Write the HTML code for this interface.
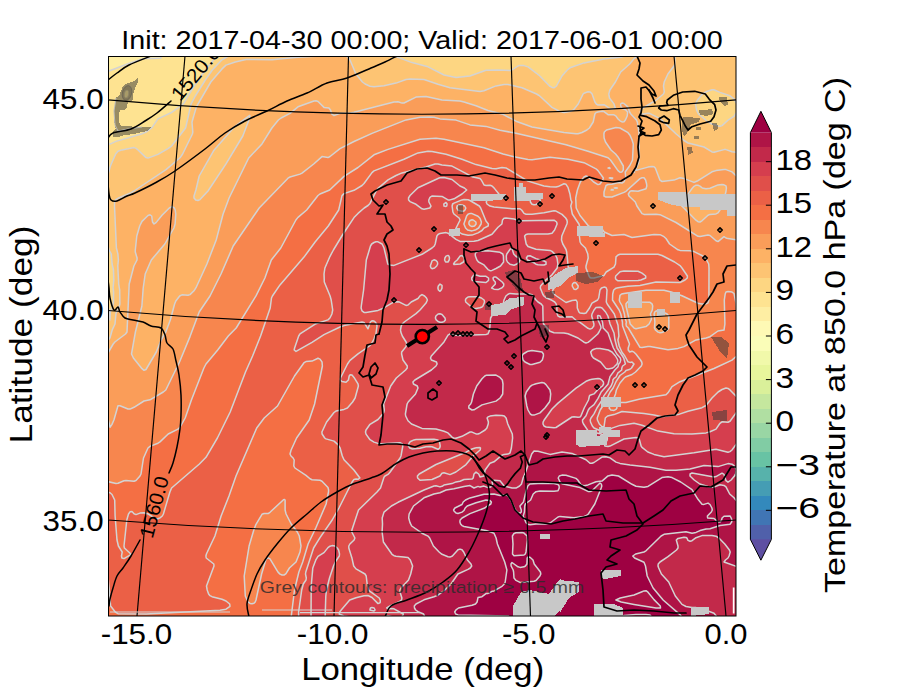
<!DOCTYPE html>
<html><head><meta charset="utf-8"><title>Temperature at 850 hPa</title>
<style>html,body{margin:0;padding:0;background:#fff}body{width:900px;height:700px;overflow:hidden}svg{display:block}text{font-family:"Liberation Sans",sans-serif;fill:#000}</style></head><body>
<svg width="900" height="700" viewBox="0 0 900 700">
<rect width="900" height="700" fill="#fff"/>
<defs><clipPath id="ax"><rect x="108" y="56" width="628" height="560"/></clipPath></defs>
<g clip-path="url(#ax)">
<rect x="108" y="56" width="628" height="560" fill="#fdb265"/>
<g shape-rendering="geometricPrecision">
<path fill="#feeea3" d="M104 50L166.5 50L160.3 54L161 58L154 58.5L146 58.2L142 59L128 63.7L102 73.7L102 50Z"/>
<path fill="#fee391" d="M164 51.8L166.5 50L218.1 50L217.4 54L216 57.2L206.7 68L195.3 84L183.2 104L172 112.2L158 118.9L151.5 128L146 132.1L142 133.8L116 141.4L110 144.1L106 144.1L102 145.7L102 73.7L128 63.7L142 59L146 58.2L154 58.5L161 58L160.3 54L163.4 52Z"/>
<path fill="#fdd682" d="M218 51L218.1 50L228.6 50L227.7 52L227.7 54L228.3 56L224 58.3L219.8 62L212.3 70L205.3 80L195.3 96L191.1 104L185.6 128L174 143.2L170 147.4L158 154.4L148 158.1L146 157.6L138 150L136 148.4L134 147.6L122 149.9L118 151.2L115.7 154L110.4 166L107.5 176L102 182L102 145.7L106 144.1L110 144.1L116 141.4L141.4 134L146 132.1L152 127.6L158 118.9L172 112.2L182 105L184 103.1L192.8 88L199.5 78L206.7 68L216 57.2L217.9 52ZM382 50L628 50L626 54.5L624 56.2L622 56.9L604 59L584 62.9L570 67.8L567.3 70L562 76L556.5 86L554 87.8L552 87.4L549.5 86L539.9 76L530 68.3L528 66.9L524 65.6L520 65.4L518 66L512 70L510 70.6L498 70L486 70.2L470 76L456 77.6L444 75L428 66.8L412 62.6L398 57.4L388 54.6L380.2 50ZM712 89.7L714 89.8L720 92.4L730 95.8L734 98.8L736 102.7L740 102.5L742 103.4L742 114.6L740 115.3L738 114.9L736 113.2L734 116.3L728 120.2L722 125.6L720 126.2L712 124L708 122L698.4 114L696.5 110L695.5 104L697.4 100L702 94.4L704 92.8L710.8 90ZM102.1 244L108 246.1L109.1 250L111.3 254L112.1 264L113.5 270L113.8 280L113.1 288L113.6 292L113.5 302L112.8 306L110.3 312L110 319.9L109.4 312L108.5 308L107.7 306L106 304.8L104.4 306L103.7 308L103.3 326L102 328.9L102 244Z"/>
<path fill="#fdc473" d="M228 51.5L228.6 50L323 50L322 54.1L320 55.4L316 56.3L298 57.2L272 59.8L244 59.7L226 65.1L222 68.9L210.8 82L198 104L196 108.1L192 122L192.8 132L192.4 134L182.6 154L180 157.8L166 169.6L134 191L130 193.3L118 198.3L115.4 200L114.6 202L114.5 206L116.4 248L117.9 254L118.4 260L117.8 266L118.7 284L119.7 290L119.9 304L118.8 308L116 313.3L115 324L112.2 330L110 337.7L108 340.5L106 340.8L105.5 344L104 345.3L102 346L102 328.9L103.3 326L103.7 308L104.4 306L106 304.8L107.7 306L109.4 312L110 319.9L110.3 312L112.8 306L113.5 302L113.6 292L113.1 288L113.8 280L113.5 270L112.1 264L111.3 254L109.1 250L108 246.1L102 244L102 182L107.5 176L110.4 166L115.7 154L118 151.2L122 149.9L134 147.6L136 148.4L138 150L146 157.6L148 158.1L158 154.4L168 148.7L171.6 146L185.6 128L191.1 104L195.3 96L205.3 80L212.3 70L222 59.8L228.3 56L227.7 54L227.7 52ZM348 50L380.2 50L388 54.6L398 57.4L412 62.6L428 66.8L444 75L456 77.6L470 76L486 70.2L498 70L510 70.6L512 70L518 66L520 65.4L524 65.6L528 66.9L530 68.3L539.9 76L549.5 86L552 87.4L554 87.8L556.5 86L562 76L567.3 70L570 67.8L584 62.9L604 59L622 56.9L624 56.2L626 54.5L628 50L639.7 50L638 56L634 58.6L629.7 64L620.7 72L615.4 82L609.9 90L608.8 94L609.5 98L614 103.9L615.3 108L612 109L610 108.7L604 104.7L598 105.1L596.3 104L594.9 102L592 93.8L590 91.9L588 91.8L584 93.2L583.1 94L578.2 104L573.4 110L570 111.5L564 112.6L560 111.5L552 107.4L540 96.2L536.6 94L522 87.8L508 84.5L504 84.6L496 85.9L484 90.7L480 91.6L450 87.7L438 84.3L424 79.5L410 79L406 79.5L396 83.1L384 85.7L374 86.7L370 86.3L365.1 84L362.4 82L355.9 74L350 60L348 57.5L345.8 56L346.7 54L346.3 50ZM676 50L742 50L742 103.4L740 102.5L736 102.7L734 98.8L730 95.8L720 92.4L714 89.8L712 89.7L706 91.8L702.4 94L697.4 100L695.5 104L696.5 110L698.4 114L708 122L712 124L718 125.9L720 126.2L722 125.6L728 120.2L734 116.3L736 113.2L738 114.9L740 115.3L742 114.6L742 155.7L736 152.2L732 151.7L726 149.6L724 149.6L714 152.3L712 151.9L704 147L688 143L684 140.5L676.2 134L660 118.6L650 113.6L648 113.2L642 114.2L640.2 112L641 110L643 108L656 100.2L663.4 94L664.3 92L663.5 86L664.2 82L667.9 74L674 66L674.8 64L675 50ZM250 115.1L249.7 118L241.7 138L226 163.9L210.3 188L200 199.6L198 200.5L196 200.2L194 198L194 196L195.9 190L199.2 176L211.7 154L215.7 148L233.2 128L248.7 116Z"/>
<path fill="#fdb265" d="M324 50L346.3 50L346.7 54L345.8 56L348 57.5L350 60L355.9 74L362.4 82L365.1 84L370 86.3L374 86.7L384 85.7L396 83.1L406 79.5L410 79L424 79.5L438 84.3L450 87.7L480 91.6L484 90.7L496 85.9L504 84.6L508 84.5L522 87.8L536.6 94L540 96.2L552 107.4L560 111.5L564 112.6L570 111.5L573.4 110L578.2 104L583.1 94L584 93.2L588 91.8L590 91.9L592 93.8L594.9 102L596.3 104L598 105.1L604 104.7L610 108.7L612 109L615.3 108L614 103.9L609.5 98L608.8 94L609.9 90L615.4 82L620.7 72L629.7 64L634 58.6L638 56L639.7 50L675 50L674.8 64L674 66L667.9 74L664.2 82L663.5 86L664.3 92L663.4 94L656 100.2L643 108L641 110L640.2 112L642 114.2L648 113.2L650 113.6L660 118.6L676.2 134L684 140.5L688 143L704 147L712 151.9L714 152.3L724 149.6L726 149.6L732 151.7L736 152.2L742 155.7L742 175.7L738 175.1L736 175.7L732 171.9L726 169.6L724 169.4L716 170.6L712 171.8L698 180.7L694 182.4L684 178.6L680 177.7L674 180.1L662 181.5L660 180.2L655.3 168L654 166.7L652 166.5L648 167.1L636 170.4L635.6 170L638.8 162L639.4 158L638.9 132L637.3 122L636.4 120L630.8 114L629.6 112L628 107.1L624 103.5L622 103L620.7 104L620.7 106L621.8 108L625.9 110L627.6 112L627.2 116L625.4 120L624 121.8L622 121.9L620 120.8L618 119L616 116.1L614 114.8L608 114.7L604 111.6L602 111.2L597.8 112L596 112.6L594.9 114L593.2 122L589.4 128L586.9 130L582 132.5L578 133.7L576 133.7L564 132.5L532 127L516 121.2L502 113.9L488 110.5L476 105.7L464 102L460 101.1L442 100L426 96.4L416 97.1L404 103L402 103.1L398 101.8L394 101.9L354 112.3L350 112.9L340 113.2L334 115.6L331.8 114L330.5 110L328.9 108L324 107.4L318 101.5L316 100.8L312 101.6L298 106.8L290 113.4L281.1 118L278.4 120L271.9 128L262 143.9L248.7 158L229.1 198L223.1 214L216.2 240L206.9 264L196 287.7L194 290.8L190 294.6L188 295.3L182 294.8L179.7 296L176 300.8L174.6 304L170.3 320L166 331.6L161.1 340L156.3 352L147.1 368L146 369.5L144 370.3L142 368.7L133.4 358L131.5 354L135.4 332L141.9 306L143.2 288L145.2 274L151.3 260L164.8 244L173.9 228L175.1 224L175.7 212L174.3 208L172 206.6L169.3 208L162 215.2L156 222.6L154 224L152.5 222L151.7 216L150 214.8L147.4 216L142 221.4L140.4 224L137.2 234L135.4 248L135.3 252L137.1 258L137 260L133.9 266L129.2 284L127 332L125.5 334L114.9 342L113.2 344L108.5 352L107.3 360L106 363L104 362.3L102 362.8L102 346L104 345.3L105.5 344L106 340.8L108 340.5L110 337.7L112.2 330L115 324L116 313.3L118.8 308L119.9 304L119.7 290L118.7 284L117.8 266L118.4 260L117.9 254L116.4 248L114.5 206L114.6 202L115.4 200L118 198.3L130 193.3L134 191L166 169.6L180 157.8L182.6 154L192.4 134L192.8 132L192 122L196 108.1L198 104L210.8 82L222 68.9L226 65.1L235.3 62L246 59.5L272 59.8L298 57.2L316 56.3L320 55.4L322 54.1L323 50ZM248.7 116L233.2 128L215.7 148L211.7 154L199.2 176L195.9 190L194 196L194 198L196 200.2L198 200.5L200 199.6L210.3 188L226 163.9L241.7 138L249.7 118L250 115.1ZM634 171.5L634.5 172L634 172.6L633.7 172ZM696 185.2L699.8 186L702 187.8L704 188.7L706 188.8L710 188.2L716 185.6L720 184.6L724 184.8L726 185.9L726.3 190L724.3 198L720 210L718 212.9L716 213.9L710 214.4L707.1 216L702 220.8L700 222L698 221.7L681.8 206L680.6 204L681.3 202L688 194.1L692 188.5L694.7 186ZM616 187.8L617.4 188L616 188.2L614.2 188ZM612 189.3L613.3 190L611.1 190ZM738 195.4L742 196.4L742 213L738 212.2L736.9 210L736.2 198L737 196Z"/>
<path fill="#fa9d59" d="M414 97.7L418 96.7L426 96.4L442 100L462 101.4L476 105.7L488 110.5L502 113.9L516 121.2L530 126.5L564 132.5L576 133.7L578 133.7L582 132.5L586.9 130L589.4 128L593.2 122L594.9 114L596 112.6L597.8 112L602 111.2L604 111.6L608 114.7L614 114.8L616 116.1L618 119L620 120.8L622 121.9L624 121.8L626.4 118L627.7 114L627.6 112L626 110.1L624 108.8L622 108.2L620.7 106L620.7 104L622 103L624 103.5L626 104.9L628.6 108L629.6 112L632.3 116L636.4 120L637.7 124L638.9 132L639.4 158L638.8 162L635.6 170L636 170.4L648 167.1L652 166.5L654 166.7L655.3 168L660 180.2L662 181.5L674 180.1L680 177.7L684 178.6L694 182.4L698 180.7L712 171.8L716 170.6L724 169.4L726 169.6L732 171.9L736 175.7L738 175.1L742 175.7L742 196.4L738 195.4L737 196L736.2 198L736.9 210L738 212.2L742 213L742 240.7L728 238.6L725.9 238L724 236.7L718 241.6L716 240.8L710 235.5L708 235.1L700 236.6L698 236.3L676 222.5L660 214.7L656 214.2L644 214.4L642 213.6L636.9 206L635.3 202L629 196L628.3 194L630 191.3L632 190.7L638 191.2L646 188.7L646.8 186L646.6 184L645.6 180L644 177.8L642 177.7L640 178.6L626 191.3L624 192.4L612 197L606 197.1L604 196L604 192L606 185.5L608 184.5L612 184.3L618 182.6L622 183L624 181.8L625.8 178L625.2 172L630 165.3L632.5 160L633.3 144L632 139.7L630 135.2L628 132.7L620 128L616 127.6L606.5 130L604.3 132L603.9 134L604.1 138L605.5 142L611 150L615.6 154L618 156.9L623.3 166L623.3 170L622 171.9L620 172.3L618 170.6L610.5 160L608 157.8L588 151.3L566 144.8L516 133.3L500 130.2L486 126.4L470 124.9L456 120.1L440 118.9L434 117.2L430 117L420 117.2L406 119.9L372 133.4L354 141.5L340 148.6L330 156.5L328 157.6L322 156.6L313.7 164L302 173.1L300 174.1L290 177L288 178.2L261 206L257.7 210L233.2 246L221 274L210 296L199.2 312L190 336.6L179.5 362L166 389.7L163.3 392L150 399.8L144 401L134 407.3L130 409.1L128 409L120 405.7L118 405.8L114 419.7L112 424.4L110 427.2L108 418.5L107.1 404L106 401.8L102 401L102 362.8L104 362.3L106 363L107.3 360L108.5 352L113.2 344L114.9 342L125.5 334L127 332L129.2 284L133.9 266L137 260L137.1 258L135.3 252L135.3 250L136.8 236L139.7 226L142 221.4L148 215.5L150 214.8L151.7 216L152.5 222L154 224L156 222.6L162 215.2L169.3 208L172 206.6L174.3 208L175.2 210L175.8 214L175.1 224L173.9 228L164.8 244L151.3 260L145.2 274L143.2 288L141.9 306L135.4 332L131.5 354L133.4 358L142 368.7L144 370.3L146 369.5L156.3 352L161.1 340L166 331.6L170.3 320L174.6 304L176 300.8L179.7 296L182 294.8L188 295.3L190 294.6L194 290.8L196 287.7L206.9 264L216.2 240L223.1 214L229.1 198L247.5 160L250.1 156L263.5 142L270.5 130L278 120.4L281.1 118L290 113.4L298 106.8L314 101L316 100.8L318 101.5L324 107.4L328.9 108L330.5 110L331.8 114L334 115.6L340 113.2L350 112.9L354 112.3L394 101.9L398 101.8L402 103.1L404 103L413.5 98ZM633.7 172L634 172.6L634.5 172L634 171.5ZM694.7 186L692 188.5L688 194.1L681.3 202L680.6 204L681.8 206L698 221.7L700 222L702 220.8L707.1 216L710 214.4L716 213.9L718 212.9L720 210L724.3 198L726.3 190L726 185.9L724 184.8L720 184.6L716 185.6L710 188.2L706 188.8L704 188.7L702 187.8L699.8 186L696 185.2ZM614.2 188L616 188.2L617.4 188L616 187.8ZM611.1 190L613.3 190L612 189.3ZM610 167.6L610 168.4L608.1 168ZM628 301.4L648 302L650 302.3L652 303.8L652.8 308L650.4 314L651.5 318L651.1 320L649.1 324L647.1 326L644 327.3L636 328.8L634 328.1L632 326.3L630.2 324L626.3 308L625.9 304L627 302ZM656 311.1L658 310.7L662.8 312L667.1 314L668.8 316L669 326L668.8 328L667.3 330L663.3 332L660 332.7L658 332.1L655.4 330L654.4 328L654.9 322L654 316L654.7 312Z"/>
<path fill="#f7864e" d="M416 117.9L422 117.1L432 117L440 118.9L456 120.1L470 124.9L486 126.4L500 130.2L516 133.3L568 145.3L608 157.8L610.5 160L618 170.6L620 172.3L622 171.9L623.3 170L623.3 166L618 156.9L615.6 154L611 150L605.5 142L604.1 138L603.9 134L604.3 132L606.5 130L616 127.6L620 128L626 131.3L628 132.7L630 135.2L633.3 144L632.6 154L632.8 158L632 161.6L628 168.4L625.2 172L625.8 178L624 181.8L622 183L618 182.6L612 184.3L608 184.5L606 185.5L604 192L604 196L606 197.1L612 197L624 192.4L626 191.3L640 178.6L642 177.7L644 177.8L645.6 180L646.6 184L646.8 186L646 188.7L638 191.2L632 190.7L630 191.3L628.3 194L629 196L635.3 202L636.9 206L642 213.6L644 214.4L656 214.2L660 214.7L676 222.5L698 236.3L700 236.6L708 235.1L710 235.5L716 240.8L718 241.6L724 236.7L725.9 238L728 238.6L742 240.7L742 328L737.5 322L736 303.2L734 293.5L732 292.1L728 291.6L726 291.9L725.2 294L724.3 300L724.9 324L724 330.1L718 331L710 336.7L706.2 338L696 339.9L684 346.6L678 348.4L668 349.7L650 346.4L648 346.4L642 347.6L640 347.3L628.3 328L626.3 326L626 324L626.4 322L625 318L624.4 314L622.2 306L619.9 302L619.3 300L620 295.3L621.6 294L624 293.4L646 290.2L664 290.3L671.2 292L682 295.7L698 303.3L702 304L706 303.8L708 302.8L708.9 300L709 268L708.7 264L705.6 258L702.9 256L694 251.6L690 250.8L680 250.4L678 249.8L669.6 244L666 238.5L664 236.7L660 234.7L654 234.5L632 237.5L624 234.5L612 235.5L604.2 232L601.2 228L600 227.4L596 229.3L594 229L588.5 226L580 215.5L576.2 208L575.7 198L577.4 190L580.3 182L584 176.9L586 176L588 176.7L593.7 182L598 184.6L600 184L602.7 180L603.4 178L598 170.6L596 168.8L584 162.7L568 159.2L550 157.2L532 159.7L528 159.4L514 156.7L503.1 154L484 147.8L444 139.3L436 138.2L420 139.3L388 149.4L376 153.9L372 156L358 167.5L342 178L329.7 190L320 194L318 195.5L306.7 210L297.4 218L290 230.3L280.8 248L271.3 260L264.9 278L256 295.9L238.8 324L234.7 330L228 336.4L204.8 366L191.4 400L185.2 418L180.8 426L178 429.1L168.2 434L159.8 442L150 446.4L148 448L143.5 458L141 474L138 478.5L136 480.5L134 481.3L126 480.5L116 483.4L102 480.3L102 401L106 401.8L107.1 404L108 418.5L110 427.2L112 424.4L114 419.7L118 405.8L120 405.7L128 409L130 409.1L134 407.3L144 401L150 399.8L163.3 392L165.8 390L179.5 362L190 336.6L199.2 312L210 296L221 274L233.2 246L259.2 208L288 178.2L290 177L300 174.1L302 173.1L313.7 164L322 156.6L328 157.6L330 156.5L340 148.6L354 141.5L372 133.4L404 120.5L415.7 118ZM608.1 168L610 168.4L610 167.6ZM609.3 178L612 178.8L612.7 178L610 177.8ZM627 302L625.9 304L626.3 308L630.2 324L632 326.3L634 328.1L636 328.8L644 327.3L647.1 326L649.1 324L651.1 320L651.5 318L650.4 314L652.8 308L652 303.8L650 302.3L648 302L628 301.4ZM654.7 312L654 316L654.9 322L654.4 328L655.4 330L658 332.1L660 332.7L663.3 332L667.3 330L668.8 328L669 326L668.8 316L667.1 314L662.8 312L658 310.7L656 311.1ZM472 219.7L474 220.3L475.9 222L476.1 224L474 226.3L472 226.6L470.5 226L468.9 224L469 222L470.9 220ZM284 499.2L285.1 500L285.4 512L291.2 524L298.6 534L300.3 540L301 546L300 552L296 561.9L289.4 568L285.7 574L284 575.1L282 575L279.8 574L277.9 572L270 558.9L268 557.8L266 559.2L261.6 574L256 600L255.2 602L254 603.2L252 603.7L250 603.4L248.2 602L245.3 596L244.1 578L246.5 560L249.1 546L253.8 530L256 524.3L262 514.3L264 513.5L268 513.6L270 512.3L283.1 500Z"/>
<path fill="#f46f44" d="M418 139.9L422 139L434 138.2L444 139.3L484 147.8L503.1 154L514 156.7L528 159.4L532 159.7L550 157.2L568 159.2L584 162.7L596 168.8L598 170.6L603.4 178L602.7 180L600 184L598 184.6L593.7 182L588 176.7L586 176L584 176.9L580.3 182L577.4 190L575.7 198L576.2 208L580 215.5L588.5 226L594 229L596 229.3L600 227.4L601.2 228L604.2 232L612 235.5L624 234.5L632 237.5L654 234.5L660 234.7L664 236.7L666 238.5L669.6 244L678 249.8L680 250.4L690 250.8L694 251.6L702.9 256L705.6 258L708.7 264L709 268L708.9 300L708 302.8L706 303.8L702 304L698 303.3L682 295.7L671.2 292L662 290.1L646 290.2L632 292L622 293.8L619.6 296L619.3 300L619.9 302L622.2 306L624.4 314L625 318L626.4 322L626 324L626.3 326L628.3 328L640 347.3L642 347.6L648 346.4L650 346.4L668 349.7L682 347.3L685.1 346L694 340.7L708 337.5L711.3 336L718 331L724 330.1L724.9 326L724.3 300L725.2 294L726 291.9L728 291.6L732 292.1L734 293.5L736 303.2L737.5 322L742 328L742 356.3L738 357L736 356.6L732 360.1L714 368.5L680 381.7L672 386.6L668 392.8L666 394.8L640 398.9L626 402.5L618 402.4L616.7 404L616.9 408L615.3 410L614 410.4L610.8 410L609.1 408L612.4 402L615.5 394L616.4 390L620 383L624.2 378L626 376.7L632 374.5L635.5 372L641.3 366L642.1 364L641.7 362L640.5 360L635.9 354L634 352.2L632 351.2L629.7 352L628.2 350L628.2 348L629.5 344L629.1 342L622.6 326L621.4 316L620 311.9L612.5 300L612.7 294L614 289.6L616 288.2L618 287.8L628 286.3L640 285.6L656 282.1L670 282L678 282.8L681.3 282L685 280L687.3 278L687.4 276L680 265.6L670 259.5L662 255.5L658 254.2L620 254.3L618 255L616 256.9L615.5 264L614 267.1L606.2 272L604 275.4L594 277.9L591 278L590 277.5L589 276L586 268L586 266L588.2 258L587.8 254L585.4 248L581.2 244L580.1 242L578.9 232L579.5 226L578.9 224L572.3 214L570.8 206L571.9 202L570.9 200L570 194.3L568 187.4L566 184.3L564 183.7L558 186.6L556 186.9L550 186.8L544 186L528 181.1L506 167.9L502 167.6L496 168.7L492 168.4L476 164.6L462 159.3L446 154.3L432 151.5L428 151.3L418 152.9L404 159.3L374 170.9L372 172.6L364 183.5L362 185.5L354 190.3L344 193.6L342 195.6L338.7 210L328.3 226L315.1 242L304 257.1L280 284.9L272.4 296L271.5 298L270.2 308L260.6 336L252.6 356L245.5 372L230.2 412L217.4 438L206.8 456L201.7 462L171.6 488L169.9 492L163.4 514L162.3 516L160 517.9L158 518.8L156 518.8L148.3 514L144 512.8L140 513.1L136 514.6L134 513.7L132 511.6L129.7 512L128 515.2L126.8 520L124 546L124.4 548L130.9 554L128.8 556L125.4 558L124 558.6L121.9 558L121.5 556L122.2 552L118.4 546L117 540L115.1 516L114.7 500L112 494.5L110 492.8L108 492.2L102 492L102 480.3L116 483.4L118 483.2L124 480.7L126 480.5L134 481.3L136 480.5L140 476L141 474L143.5 458L148 448L150 446.4L158 443.2L160 441.9L168.2 434L178 429.1L180 427.2L185.2 418L191.4 400L203.9 368L206 364L217.7 350L228.3 336L236.2 328L256 295.9L264.9 278L271.3 260L280.8 248L295.9 220L298 217.4L306.7 210L318 195.5L320 194L329.7 190L344 176.4L358 167.5L374 154.8L388 149.4L417.8 140ZM610 177.8L612.7 178L612 178.8L609.3 178ZM458 205.5L460 204.8L462 204.9L464.7 206L465.8 208L465 210L464 210.9L462 211.2L458 210.2L456.7 208L457.1 206ZM470 213.4L472 213.6L478 216.2L480.9 220L481.4 222L480.1 226L478 228.5L475.3 230L472 230.9L468 230.2L466 228.6L464.5 226L463.9 224L464.4 222L465.6 220L466.6 216L468.5 214ZM470.9 220L469 222L468.9 224L470.5 226L472 226.6L474 226.3L476.1 224L475.9 222L474 220.3L472 219.7ZM574 282.5L576 282.8L577.2 284L578.2 286L577.9 288L576 289.4L574 289.2L572.2 286L572.5 284ZM316 358.9L318 358.3L320 359.1L322.1 362L322.5 364L314.6 404L309.2 420L296.6 438L291.1 450L290 454L291 456L293.1 458L294.2 460L293.8 466L294.9 468L306 475.4L310 478.8L312 479.7L320 480.3L322 481.2L328 487.5L328.6 490L328.5 492L326.1 504L316 527.5L308.1 544L302.7 562L298.9 572L294.5 590L291.3 616L292 622L102 622L102 579.6L108 579.4L108.4 580L110.6 606L115.3 612L118 613.7L146 613.9L220 610.3L226 609.2L230 606.3L229.7 604L226 601L222 599.3L212 596.7L210 595.7L208.6 594L207.2 590L206.5 586L214 566L213.8 564L206.2 558L205.9 556L206.4 554L214.9 536L221.1 516L229 496L236 476L256.7 428L264.2 418L277.5 406L294.5 376L302.9 364L306 361.6L310 361.5L314.2 360ZM283.1 500L270 512.3L268 513.6L264 513.5L262 514.3L256 524.3L253.8 530L249.1 546L246.5 560L244.1 578L245.3 596L248.2 602L250 603.4L252 603.7L254 603.2L255.2 602L256 600L261.6 574L266 559.2L268 557.8L270 558.9L277.9 572L279.8 574L282 575L284 575.1L285.7 574L289.4 568L296 561.9L300 552L301 546L300.3 540L298.6 534L291.2 524L285.4 512L285.1 500L284 499.2Z"/>
<path fill="#eb6046" d="M424 151.8L430 151.3L444 153.8L460 158.7L476 164.6L492 168.4L496 168.7L502 167.6L506 167.9L528 181.1L544 186L550 186.8L556 186.9L558 186.6L564 183.7L566 184.3L568 187.4L570 194.3L570.9 200L571.9 202L570.8 206L572.3 214L578.9 224L579.5 226L578.9 232L580.1 242L581.2 244L585.4 248L587.8 254L588.2 258L586 266L586 268L589 276L590 277.5L591 278L594 277.9L604 275.4L606.2 272L614 267.1L615.5 264L616 256.9L618 255L620 254.3L658 254.2L662 255.5L674.6 262L680 265.6L682 268L687.4 276L687.3 278L685 280L680 282.5L656 282.1L640 285.6L628 286.3L618 287.8L616 288.2L613.7 290L612.7 294L612.5 300L619.1 310L620.8 314L622.4 322L622.6 326L629.5 344L628.2 348L628.2 350L629.7 352L632 351.2L634 352.2L635.9 354L640.5 360L641.7 362L642.1 364L641.3 366L635.5 372L632 374.5L626 376.7L624.2 378L620 383L616.4 390L615.5 394L612.4 402L609.1 408L610.8 410L614 410.4L616 409.4L616.9 408L616.7 404L618 402.4L626 402.5L640 398.9L666 394.8L668 392.8L672 386.6L680 381.7L714 368.5L732 360.1L736 356.6L738 357L742 356.3L742 401.2L737.7 398L730 389.9L728 388.4L726 388L722 389.5L718.1 392L712 398L706 405.5L702 407.7L688 411.3L678 414.6L662 416.7L654 414.9L644 413.6L622 411.5L614 414.6L607.6 416L605.3 418L604 426.8L602 426.8L599.3 424L597.4 420L597.2 418L600.2 410L605.4 402L610 392.2L613.1 388L616 381.7L620 375.5L624.8 372L626 370.5L630 369.3L631.5 368L634 364L632 362.1L630 362.4L628 361.8L624.8 356L621.8 352L619.2 346L617.9 340L618.9 336L618 325.3L614.3 314L607.2 304L606.3 302L607 290L606 287.4L604 287.1L601.5 288L600 290L598.7 298L597.6 300L592 303.2L589.5 308L586 313L584 313.5L580 313L578.9 312L577.3 308L577.2 302L576.1 300L572 300.5L566 302.5L556.5 296L553.9 294L552.4 292L552.8 290L558 282.4L566 277.2L568.4 274L568.5 270L566.7 252L566 249.5L562.8 244L561.5 240L561.8 236L566.9 224L567.3 222L566.9 220L565.7 218L562 214.4L556 211.1L554 210.7L544 212.8L532 214.2L526 214.2L524 213.4L521.6 210L520 208.8L512 208.7L494 207L490 206.1L487 204L486.2 202L487.3 200L494 199.1L496.6 198L499.1 196L498.9 194L494 187.9L492 186L490 185.2L486 185.4L484 184.9L481.3 180L480 178.6L472 176.7L452 166.1L442 165L438 164L435 164L426 167L402 172.9L396 175.5L388 179.9L378 188.4L376 191.3L370 203.4L368 205.5L364.2 208L358 213.4L354 217.6L343.1 234L333.4 250L330 256.3L324.9 268L324 274L324.3 282L330.1 296L331.2 300L332.7 310L331.9 314L329.9 318L328 319.9L316 323.7L300 333.9L298.7 336L294.6 348L294.2 350L296 351.4L312 342.3L324 334.6L340 327L344 325.6L362 322.1L364 322.4L368 328.8L370.4 322L372 320.8L374 321.1L375.2 322L376.6 324L377 326L375.9 334L374 339L371.3 344L369.4 346L358 353.8L350 360.4L347.5 364L340.5 378L340.4 380L342 381.5L346 382.2L348.4 380L349.2 376L350 374.8L352 375.1L354 377.4L358 383.9L358.4 386L355.1 398L352.6 402L347.4 408L344 409.4L336 411.1L334 412.5L326.6 422L321.9 432L322.1 434L324.7 438L326 438.9L334 441.1L338 444.6L340.1 448L342.3 456L344 459.7L353.9 470L359.9 478L358 479.3L356 479L354 479.4L352.1 482L339 508L332.2 520L320 537.6L313.6 548L305.8 572L305.5 574L306.3 578L306 580L303.3 584L301.7 590L298.6 612L298.7 622L292 622L291.3 616L294.9 588L298.9 572L302.7 562L308.1 544L316 527.5L326.1 504L327.2 500L328.6 490L328.3 488L327 486L322 481.2L320 480.3L312 479.7L310 478.8L306 475.4L294.9 468L293.8 466L294.2 460L293.1 458L291 456L290 454L291.1 450L296.6 438L309.2 420L314.6 404L322.4 366L322.1 362L320 359.1L318 358.3L312 361.1L306 361.6L304 362.7L294.5 376L277.5 406L264.2 418L256.7 428L236 476L229 496L221.1 516L214.9 536L207.1 552L205.9 556L206.2 558L213.8 564L214 566L206.9 584L206.7 588L207.8 592L208.6 594L210.4 596L224 599.9L227.5 602L229.7 604L230.2 606L228 608.1L224 609.9L220 610.3L146 613.9L120 614L118 613.7L115.3 612L111.8 608L110.1 604L109.1 584L108.4 580L108 579.4L102 579.6L102 492L108 492.2L110 492.8L112 494.5L114.7 500L115.1 516L117 540L118.4 546L122.2 552L121.5 556L121.9 558L124 558.6L130 555.1L130.9 554L124.4 548L124 546L126.8 520L128.5 514L130 511.8L132 511.6L134 513.7L136 514.6L140 513.1L144 512.8L148.3 514L156 518.8L158 518.8L160 517.9L162.3 516L163.4 514L169.9 492L171.6 488L199.4 464L206 457.3L217.4 438L230.2 412L245.5 372L252.6 356L260.6 336L270.2 308L271.5 298L272.4 296L280 284.9L304 257.1L315.1 242L328.3 226L338.7 210L342 195.6L344 193.6L354 190.3L362 185.5L364 183.5L372 172.6L374 170.9L404 159.3L416 153.6L423 152ZM530 198L530.4 202L532 204.3L534 204.8L536 204.5L540.3 202L540.3 200L538 198.7L532 196.8L530 197.8ZM619.8 272L615.7 276L615.4 278L616 279.4L618 280.8L638 280.5L640.8 280L645.7 278L645.7 276L642 273.1L638 271.3L624 271L620 271.8ZM572.5 284L572.2 286L574 289.2L576 289.4L577.9 288L578.2 286L577.2 284L576 282.8L574 282.5ZM462 199.9L468 199.7L472.9 202L479.3 206L480.7 208L486 221L488.4 224L488.2 226L484 228.1L482 230.5L478 232.9L474 234.5L470 235.3L464 234.6L460 232.9L456.8 230L456.1 228L460.1 220L459.1 218L453.9 214L452.9 212L452.1 206L452.6 204L454 203.1L461.7 200ZM457.1 206L456.7 208L458 210.2L462 211.2L464 210.9L465 210L465.8 208L464.7 206L462 204.9L460 204.8L458 205.5ZM468.5 214L466.6 216L465.6 220L464.4 222L463.9 224L464.5 226L466 228.6L468 230.2L472 230.9L475.3 230L478 228.5L480.1 226L481.4 222L480.9 220L478 216.2L472 213.6L470 213.4Z"/>
<path fill="#e04f4a" d="M436 163.8L450 165.8L454 166.8L472 176.7L480 178.6L481.3 180L484 184.9L486 185.4L490 185.2L492 186L498.9 194L499.1 196L496.6 198L494 199.1L487.3 200L486.2 202L487 204L490 206.1L494 207L512 208.7L520 208.8L521.6 210L524 213.4L526 214.2L532 214.2L544 212.8L554 210.7L556 211.1L562 214.4L566 218.4L567.3 222L566.9 224L561.8 236L561.5 240L562.8 244L566 249.5L566.7 252L568.5 270L568.4 274L566 277.2L558 282.4L552.8 290L552.4 292L553.9 294L556.5 296L566 302.5L572 300.5L576.1 300L577.2 302L577.3 308L578.9 312L580 313L584 313.5L586 313L589.5 308L592 303.2L597.6 300L598.7 298L600 290L601.5 288L604 287.1L606 287.4L607 290L606.3 302L607.2 304L614.3 314L618 325.3L618.9 336L617.9 340L619.2 346L621.8 352L624.8 356L628 361.8L630 362.4L632 362.1L634 364L631.5 368L630 369.3L626 370.5L624.8 372L620 375.5L616 381.7L613.1 388L610 392.2L605.4 402L600.2 410L597.2 418L597.4 420L599.3 424L602 426.8L604 426.8L605.3 418L607.6 416L614 414.6L622 411.5L644 413.6L654 414.9L662 416.7L678 414.6L688 411.3L702 407.7L706 405.5L712 398L718.1 392L722 389.5L726 388L728 388.4L730 389.9L737.7 398L742 401.2L742 407.3L740.7 408L736.8 412L730 421.3L728 422.2L722 421.8L720 423.3L716 429.1L710 431.8L706 432.9L692 434L674 433.8L658 431.1L642 425.3L634 423.3L620 425.4L612 428.1L608 430.6L604 431.7L602 431.5L594 428L592.3 426L590.5 422L590.2 420L591 418L594 413.9L596.9 408L602 400.2L604 395.6L611.1 386L612.8 382L612.9 380L614 378.4L616 377L618 372.8L621.7 370L621.8 368L622.6 366L625.4 364L623.7 358L617.1 348L615 340L614 333L610.1 324L607.9 316L605.6 312L602 308L600 307.2L596 307.6L594 310L592 314L591.7 316L593.9 324L593.8 326L592 328.4L590 329.1L588 328.3L580 322.3L576 320.3L572 316.7L562 317.1L560 317L558 316.1L557.2 314L556.7 306L556 303.6L554.7 302L552 300.3L546 297.8L543.9 296L542.7 294L540.3 288L540.6 286L546 279.8L552 274.8L557.2 268L557.9 264L557 258L554.8 254L552 251.4L550 250.4L536 249.2L528 246.5L526.2 244L524.6 236L526 234.4L528 234L548 234L552 233.2L554.6 230L557.1 224L556.6 222L554 220.2L522 220.8L518 220.4L514 219L506 218.1L504 218.3L502.5 220L501.9 224L498 227.3L492 234.3L478 240.5L474 241.3L460 241.4L456 239.3L448 233.2L446 232.6L440 233.4L438 234.5L436.9 236L435.2 244L434.3 246L432 248L422 254.3L394 265.4L390 265L387.8 264L384 248L382.1 244L378 241.8L376 241.7L374 242.5L371.7 244L370.5 246L366.3 260L363.6 290L361.3 306L361.1 308L362 310.9L364 312.4L366 312.4L378 310.4L382 308.8L394 301.9L398 301.8L400 302.3L406 305.4L408 305L411.2 302L418 298.5L420 295.9L422 294.6L424.6 296L426.5 298L427.4 300L426 303.1L420 310L416 313.6L404.3 322L402.3 324L401.2 326L400.5 330L400.8 332L402.3 336L406.1 342L406.7 344L406 346.6L401.7 352L401.6 354L403 360L407.3 366L407.2 368L405.6 370L396.3 378L390.7 386L383.6 404L384.3 410L383.9 412L382.7 414L378 419.5L370 424.3L366 430L365.5 432L366 434.1L370 439.7L374 442.1L378 443.4L382 443.8L400 442.7L402.3 444L402.8 446L401 456L400.1 458L390 472.3L388 474.4L385 476L384 477.3L380.5 488L377 492L358.5 510L351.9 530L351.8 532L354.9 538L354.1 540L349.9 544L348.8 546L348.8 548L352 558.3L353.7 566L356 568.9L365 574L366.2 576L367.4 586L368.7 590L370 591.4L379.2 598L380.2 600L380.3 602L380 602.8L378 603.6L372 597.5L368 595.5L364 595.8L356 597.7L349.7 600L341.2 610L339.7 612L339.2 614L344 616L350 616.9L350.9 618L351.3 622L325 622L325.8 596L326.5 590L329.5 578L333.5 566L335.3 562L339.3 556L339.5 554L338.6 550L336 546.6L334 545.6L330 546.2L328 547.6L324 552.6L318 556.3L316 559.6L312.8 568L311.2 586L311 622L298.7 622L298.6 612L302 588.4L303.3 584L306 580L306.3 578L305.5 574L305.8 572L313.6 548L320 537.6L332.2 520L339 508L352.1 482L354 479.4L356 479L358 479.3L359.9 478L353.9 470L344 459.7L342.3 456L340.1 448L338 444.6L334 441.1L326 438.9L324.7 438L322.1 434L321.9 432L326.6 422L334 412.5L336 411.1L344 409.4L347.4 408L352.6 402L355.1 398L358.4 386L358 383.9L354 377.4L352 375.1L350 374.8L349.2 376L348.4 380L346 382.2L342 381.5L340.4 380L340.5 378L347.5 364L350 360.4L358 353.8L369.4 346L372 343L375.9 334L376.8 328L376.6 324L374 321.1L372 320.8L370.4 322L368 328.8L364 322.4L362 322.1L342 326.2L324 334.6L312 342.3L296 351.4L294.2 350L297.9 338L300 333.9L316 323.7L328 319.9L329.9 318L331.9 314L332.7 310L330.8 298L324.3 282L324.3 270L332 252.4L343.1 234L354 217.6L362 209.9L369.6 204L376.7 190L380 186.5L388 179.9L402 172.9L426 167L435 164ZM439.1 178L418 187.7L410 195.5L408.5 198L408.6 200L410 201.6L416 204.3L422 208.8L424 209.3L429.8 208L431 206L428.9 202L428.8 200L430 197.3L431.9 196L442 196.4L448 199.9L450 199.9L454 198.8L462 194L466.7 190L464.4 188L460 186L452 179.5L444 177.6L440 177.7ZM461.7 200L454 203.1L452.6 204L452.1 206L452.9 212L453.9 214L459.1 218L460.1 220L456.1 228L456.8 230L460 232.9L464 234.6L470 235.3L474 234.5L478 232.9L482 230.5L484 228.1L488.2 226L488.4 224L486 221L480.7 208L479.3 206L472.9 202L468 199.7L462 199.9ZM443.8 204L444 206.1L446 206.5L446.7 206L447.1 204L446 202.5L444 203.8ZM530 197.8L532 196.8L538 198.7L540.3 200L540.3 202L536 204.5L534 204.8L532 204.3L530.4 202L530 198ZM448 255.4L448.9 256L449.5 258L449.2 260L448 262L445.6 262L444.6 260L444.9 258L446.3 256ZM462 255.6L464 257.3L464.4 260L463.5 262L460.2 264L454 264.4L453.6 264L460.2 256ZM434 259.8L436 260.5L437.4 262L437.7 264L436.7 266L434 268.4L432 268.7L431 268L430.3 266L432 260.9L433.5 260ZM620 271.8L624 271L638 271.3L642 273.1L645.7 276L645.7 278L640.8 280L638 280.5L618 280.8L616 279.4L615.4 278L615.7 276L619.8 272ZM440 284.1L442 285.3L442.2 286L441.2 290L440 291.3L438.4 290L437.9 288L438.3 286ZM468 297L478 296.7L482 298.4L484.1 300L484.6 302L484 304.2L482 307L476 308.4L474 308.5L472 307.5L465.7 302L465.4 300L466.4 298ZM414 439.9L418 439.2L432 439.2L437.9 440L439.5 442L440.2 446L439.7 448L438 449.3L432 446.8L430 446.6L426 446.8L420 448.2L412 448.9L409.8 448L408.5 446L408.6 444L410 441.8L413.8 440ZM476 447.8L480 447.6L480.5 448L480.2 450L473.1 456L466 464.6L459.2 470L450 474.6L444 472.7L442 473.3L439.9 476L432 479.5L420 480.2L417.6 478L417.4 476L419.2 474L438 463.6L466 452.2L475 448ZM388 615.8L394 617.2L396 618.8L398.3 622L384 622L384.1 618L386.9 616Z"/>
<path fill="#d53e4e" d="M440 177.7L444 177.6L452 179.5L460 186L464.4 188L466.7 190L462 194L454 198.8L450 199.9L448 199.9L442 196.4L431.9 196L430 197.3L428.8 200L428.9 202L431 206L429.8 208L424 209.3L422 208.8L416 204.3L410 201.6L408.6 200L408.5 198L410 195.5L418 187.7L439.1 178ZM444 203.8L446 202.5L447.1 204L446.7 206L446 206.5L444 206.1L443.8 204ZM504 218.3L506 218.1L514 219L518 220.4L522 220.8L552 220L554 220.2L556.6 222L557.1 224L556.6 226L554 231.1L552 233.2L548 234L528 234L526 234.4L524.6 236L526.2 244L528 246.5L536 249.2L550 250.4L554 253.2L556.3 256L557.9 264L557.2 268L552 274.8L546 279.8L540.6 286L540.3 288L544 296.1L546.4 298L554 301.5L556.3 304L557.2 314L558 316.1L560 317L562 317.1L572 316.7L576 320.3L580 322.3L588 328.3L590 329.1L592 328.4L593.8 326L593.9 324L591.7 316L592 314L592.9 312L596 307.6L600 307.2L602 308L605.6 312L607.9 316L610.1 324L614 333L615 340L617.1 348L623.7 358L625.4 364L622.6 366L621.8 368L621.7 370L618 372.8L616 377L614 378.4L612.9 380L612.8 382L611.1 386L604 395.6L602 400.2L596.9 408L594 413.9L591 418L590.2 420L590.5 422L592.3 426L594 428L602 431.5L604 431.7L608 430.6L612 428.1L620 425.4L634 423.3L642 425.3L658 431.1L674 433.8L692 434L706 432.9L710 431.8L716 429.1L720 423.3L722 421.8L728 422.2L730 421.3L736.8 412L740.7 408L742 407.3L742 440.7L736.4 444L732 450L730 451.6L728 452.2L716 449.3L694 452.8L664 456.7L654 454.4L647.8 452L642 447.4L641.1 446L639.5 440L638 437.8L636 437.4L624 439L610 446.1L608 446.6L604.8 446L604.6 444L607.2 440L607.4 438L606.6 436L601.2 434L590 431.6L588 430.6L583.5 424L582.6 422L582.5 420L586 415.7L588.3 410L589.7 408L594 404.6L598 398.3L601.2 392L608 384.2L610 376.6L614.8 370L618 366.7L618.7 364L620 362.6L620.7 360L620.3 358L616.8 354L613.4 348L608 333.1L603.2 328L602.5 322L600.1 316L598 315.4L597.6 316L598 320L600.7 326L601 328L599 332L597.7 334L590 340.9L588 342.4L586 343L584 342.2L578 338L568 333.8L564 333L554 332.7L550 331.2L543.6 324L543.1 322L542.8 306L541.2 304L538 302L536 300L532 294.7L530 294.1L516 294L510 293.4L508.4 294L506 295.9L504.7 298L503.5 302L502.9 310L502 312.8L500 313.8L494 314.4L492 315.6L490.6 318L489.6 330L488 333.9L486 334.5L458 335.5L454 335.1L450 333.9L448 335.2L444 341.9L436 350.3L431.3 356L430.5 358L432 360.5L436.5 362L437.1 364L436 366L431.4 370L414.9 380L412.9 382L413.5 384L417.3 386L418 388L415.5 394L408.2 402L407.1 404L405.4 414L405.7 416L408 420.8L410 423.1L412 424.3L422 428.4L436 429L444 431.2L448 432.9L452 437.1L454 438.2L460 437.1L470 432L472 432.1L476 433.9L478 434L480 433.2L485.1 430L486.9 428L488.2 424L488.4 422L487.1 418L488 416.9L490 416.1L496 415.3L500 415.2L504.3 416L506.1 418L507.8 424L512 433.1L512.7 436L511.4 448L510 453L508 454.1L504 454.4L502 455.2L494 461.8L490 463.2L485.1 470L484 476.1L480 476.9L478.7 474L476 472.1L474 474L473.2 478L472 479.1L464 479.5L460 481.3L456 481.9L452 483.6L444 485L442.8 486L440 486.9L436 485.8L434 486L424 490L398 502.3L391.4 506L384 512.1L382.2 518L382.5 524L382.1 532L383.4 542L392 554.3L394 555.7L396 556.2L408 557.4L410.3 560L412.6 566L410.7 574L408.5 580L401 588L399.9 590L400 592L401.9 598L401.5 600L398.6 602L390 605.9L386.7 608L388 608.9L392 608.5L394 608.8L403.3 614L402.5 616L400 618L401.3 622L398.3 622L396 618.8L394 617.2L388 615.8L386 616.3L384.1 618L384 622L358.3 622L360.2 620L358 618.4L356 618.6L355.2 620L355.5 622L351.3 622L350.9 618L350 616.9L344 616L339.2 614L339.7 612L348 601.6L350 599.8L354 598.2L364 595.8L368 595.5L372 597.5L378 603.6L380 602.8L380.3 602L380.2 600L379.2 598L370 591.4L368.7 590L367.4 586L366.2 576L365 574L356 568.9L354 566.6L349.3 550L348.8 546L349.9 544L354.1 540L354.9 538L351.8 532L351.9 530L358 510.9L360 508.2L371 498L380.5 488L384 477.3L385 476L388 474.4L390 472.3L400.1 458L401 456L402.8 446L402.3 444L400 442.7L382 443.8L378 443.4L374 442.1L370 439.7L366 434.1L365.5 432L366 430L370 424.3L378 419.5L382.7 414L383.9 412L384.3 410L383.6 404L390.7 386L396.3 378L405.6 370L407.2 368L407.3 366L403 360L401.6 354L401.7 352L406 346.6L406.7 344L406.1 342L402.3 336L400.8 332L400.5 330L401.2 326L402.3 324L404.3 322L416 313.6L420 310L426 303.1L427.4 300L426.5 298L424.6 296L422 294.6L420 295.9L418 298.5L411.2 302L408 305L406 305.4L400 302.3L398 301.8L394 301.9L382 308.8L378 310.4L366 312.4L364 312.4L362 310.9L361.1 308L361.3 306L363.6 290L366 262L370.5 246L372 243.7L376 241.7L378 241.8L382 243.9L384 248L387.8 264L390 265L394 265.4L422 254.3L432 248L434.3 246L435.2 244L436.9 236L438 234.5L440 233.4L446 232.6L448 233.2L456 239.3L460 241.4L476 241.1L480 239.7L492.3 234L498 227.3L501.9 224L502.5 220ZM509.6 250L506.8 254L506.3 256L506.5 260L507.5 262L510 264.3L514 265.3L516.9 264L519.2 262L519.9 260L518.7 258L515.6 256L513.7 254L512 248.4L510 249.3ZM476.3 252L475.2 254L475.4 256L476.9 260L478.5 262L484 264.9L488 269.6L490 270.7L492 270.4L496 268.5L500.5 266L503.6 262L503.4 256L502.8 254L500 252.3L496 251.7L488 250.8L478 251.2ZM446.3 256L444.9 258L444.6 260L445.6 262L448 262L449.2 260L449.5 258L448.9 256L448 255.4ZM460.2 256L453.6 264L454 264.4L460.2 264L463.5 262L464.4 260L464 257.3L462 255.6ZM527.7 256L526.4 258L527.5 260L534 262.8L536 264.2L538 264.8L542 265L544 265L546 264.2L546 262L544 261L536 258.6L530 255.8L528 255.9ZM433.5 260L432 260.9L430.3 266L431 268L432 268.7L434 268.4L436.7 266L437.7 264L437.4 262L436 260.5L434 259.8ZM473 276L471.7 278L471.9 280L474 281.4L486 282.5L488 280.9L488.6 280L488.5 278L486 276.3L480 276.3L476 275L474 275.1ZM493 278L493.5 280L495.3 282L495.4 284L491.6 288L494 289.2L498 289.6L502 287.8L503.6 286L503.8 284L502.2 282L496 277.1L494 276.9ZM438.3 286L437.9 288L438.4 290L440 291.3L441.2 290L442.2 286L442 285.3L440 284.1ZM466.4 298L465.4 300L465.7 302L472 307.5L474 308.5L476 308.4L482 307L484 304.2L484.6 302L484.1 300L482 298.4L478 296.7L468 297ZM438.1 314L435.9 316L435.4 318L436 319.6L438 321.5L440 322.3L442 322.3L444 321.6L445.4 320L445 318L442 314.5L440 313.8ZM413.8 440L410 441.8L408.6 444L408.5 446L409.8 448L412 448.9L420 448.2L426 446.8L430 446.6L432 446.8L438 449.3L439.7 448L440.2 446L439.5 442L437.9 440L432 439.2L418 439.2L414 439.9ZM475 448L466 452.2L438 463.6L419.2 474L417.4 476L417.6 478L420 480.2L432 479.5L439.9 476L442 473.3L444 472.7L450 474.6L459.2 470L466 464.6L473.1 456L480.2 450L480.5 448L480 447.6L476 447.8ZM370.4 608L369.9 610L374 611L375.1 610L374.1 608L372 607.5ZM594 349.2L598 348.3L602 348.6L608 349.9L612 352L617.1 358L617.8 360L617 364L614 367.1L612 368.3L608 368.9L606 368.6L600.6 362L594 358.4L592 356.2L591 354L590.7 352L592.3 350ZM590 379.7L598 378.5L600 378.8L602 380.1L603.4 382L603.6 384L602.4 386L598 389.4L594 393.9L590 395.2L587.7 402L585.2 406L582 414L580 417L572 417L556 427.5L548 427.3L544 426L543 424L543.1 422L544.2 420L552 409L558 403.1L576.1 388L586 381.3L588.9 380ZM332 545.6L334.9 546L337.3 548L338.6 550L339.5 554L339.3 556L335.3 562L333.5 566L329.5 578L326.5 590L325.8 596L325 622L311 622L311.4 582L312.8 568L316.8 558L318 556.3L324 552.6L328 547.6L330.5 546Z"/>
<path fill="#c2294a" d="M510 249.3L512 248.4L513.7 254L515.6 256L518.7 258L519.9 260L519.2 262L516.9 264L514 265.3L510 264.3L507.5 262L506.5 260L506.3 256L506.8 254L509.6 250ZM478 251.2L488 250.8L496 251.7L500 252.3L502.8 254L503.4 256L503.6 262L500.5 266L496 268.5L492 270.4L490 270.7L488 269.6L484 264.9L478.5 262L476.9 260L475.4 256L475.2 254L476.3 252ZM528 255.9L530 255.8L536 258.6L544 261L546 262L546 264.2L544 265L542 265L538 264.8L536 264.2L534 262.8L527.5 260L526.4 258L527.7 256ZM474 275.1L476 275L480 276.3L486 276.3L488.5 278L488.6 280L488 280.9L486 282.5L474 281.4L471.9 280L471.7 278L473 276ZM494 276.9L496 277.1L502.2 282L503.8 284L503.6 286L502 287.8L498 289.6L494 289.2L491.6 288L495.4 284L495.3 282L493.5 280L493 278ZM510 293.4L516 294L530 294.1L532 294.7L536 300L538 302L541.2 304L542.8 306L543.1 322L543.6 324L550 331.2L554 332.7L564 333L568 333.8L578 338L584 342.2L586 343L588 342.4L590 340.9L597.7 334L599 332L601 328L600.7 326L598 320L597.6 316L598 315.4L600.1 316L602.5 322L603.2 328L608 333.1L613.4 348L616.8 354L620.3 358L620.7 360L620 362.6L618.7 364L618 366.7L614.8 370L610 376.6L608 384.2L601.2 392L598 398.3L594 404.6L589.7 408L588.3 410L586 415.7L582.5 420L582.6 422L583.5 424L588 430.6L590 431.6L601.2 434L606.6 436L607.4 438L607.2 440L604.6 444L604.8 446L608 446.6L610 446.1L624 439L636 437.4L638 437.8L639.5 440L641.1 446L642 447.4L647.8 452L654 454.4L664 456.7L694 452.8L716 449.3L728 452.2L730 451.6L732 450L736.4 444L742 440.7L742 467.4L740 466.7L738 467.1L736.6 468L736 469.9L735.6 468L734 465.7L732 464.2L728 463.6L718 466.6L704 465.5L690 469L676 470.2L666 470.2L650 467.2L630 465L620 463.4L616 462.1L610 457.9L606 456.7L602 457.1L594 462.5L592 463.3L590 463.2L586 459.7L572 453.4L562 452L550 454.4L538 451.2L534 451L531.7 454L525.7 472L523.1 478L521.5 484L519.6 486L516 488.1L512 488.1L506 486.6L504 485.8L500 480.8L494 480.2L492 482L492.7 484L492 486L490 487.3L488 487.6L484 486.1L480 487.1L478 486.4L474 488L470 485.6L464 486.4L454 488.8L446.1 490L440 492.7L433.9 494L424 497.8L413.5 506L409.1 514L408.7 518L410 522.6L411.7 526L422 533.2L428 536.1L429.7 538L433.4 546L439.1 552L442 554.3L448 556.8L450 557.1L452.4 556L458 549.7L460 549.1L462 549.8L463.7 552L467.4 560L471 564L471.7 566L470.3 568L468 569.4L457.9 574L451 584L444.8 590L438 595.1L434 596.8L424 599.8L416 604L414.3 606L414.5 608L415.7 610L418 611.7L423.6 614L424.5 616L422.9 618L422.6 620L423.4 622L401.3 622L400 618L402.5 616L403.3 614L394 608.8L392 608.5L388 608.9L386.7 608L390 605.9L398.6 602L401.5 600L401.9 598L400 592L399.9 590L401 588L408.5 580L410.7 574L412.6 566L410.3 560L408.8 558L406 556.9L394 555.7L391.8 554L384 543.1L382.9 540L382.1 532L382.5 524L382.2 518L383.1 514L384 512.1L386 510L394.8 504L424 490L434 486L436 485.8L440 486.9L442.8 486L444 485L452 483.6L456 481.9L460 481.3L464 479.5L472 479.1L473.2 478L474 474L476 472.1L478.7 474L480 476.9L484 476.1L485.1 470L490 463.2L494 461.8L502 455.2L504 454.4L508 454.1L510 453L511.4 448L512.7 436L512 433.1L507.8 424L506 417.9L504 415.9L498 415.2L490.4 416L488 416.9L487.1 418L488.4 422L488.2 424L486.9 428L485.1 430L480 433.2L478 434L476 433.9L472 432.1L470 432L460 437.1L454 438.2L452 437.1L448 432.9L444 431.2L436 429L422 428.4L410 423.1L408 420.8L405.7 416L405.5 412L406.6 406L408.2 402L415.5 394L418 388L417.3 386L413.5 384L412.9 382L414.9 380L431.4 370L436 366L437.1 364L436.5 362L432 360.5L430.5 358L431.3 356L436 350.3L444 341.9L448 335.2L450 333.9L454 335.1L458 335.5L486 334.5L488 333.9L489.6 330L490.6 318L492 315.6L494 314.4L500 313.8L502 312.8L502.9 310L503.5 302L504.7 298L506 295.9L508.4 294ZM592.3 350L590.7 352L591 354L592 356.2L594 358.4L600.6 362L606 368.6L608 368.9L612 368.3L614 367.1L617 364L617.8 360L617.1 358L612 352L608 349.9L602 348.6L598 348.3L594 349.2ZM526.5 352L523.2 354L522.1 356L523 360L525 362L530 364.5L532 364.4L540 362.3L542.3 360L543.4 356L543.4 354L542 352L532 350.4L528 351.2ZM484.8 376L482 378.7L476.7 386L473.4 394L471.6 402L470.7 404L468.8 406L468.8 408L472 410L474 409.8L482 404.9L496 401.1L500.1 398L502.7 394L503 384L502.3 380L500 377.4L496 375.1L486 375.3ZM588.9 380L586 381.3L576.1 388L558 403.1L552 409L544.2 420L543.1 422L543 424L544 426L548 427.3L556 427.5L572 417L580 417L582 414L585.2 406L587.7 402L590 395.2L594 393.9L598 389.4L602.4 386L603.6 384L603.4 382L602 380.1L600 378.8L598 378.5L590 379.7ZM535.3 384L532 385.1L530 386.7L526.3 392L525.1 396L526.8 406L528 410L530.3 414L532 415.1L534 415.1L540 412.9L544.9 408L549.4 402L550.1 400L550.7 394L550 390L546 384.6L544 382.9L542 382.6L536 383.8ZM440 313.8L442 314.5L445 318L445.4 320L444 321.6L442 322.3L440 322.3L438 321.5L436 319.6L435.4 318L435.9 316L438.1 314ZM736 470.7L736.3 476L737.4 478L742 479L742 502.3L740 501.3L736 500.4L734 497.7L729.7 494L726 486.8L724 485.4L720 484.8L714 487.1L712 487.3L708 486.5L699.8 484L694.2 480L690 476L690.1 474L692 472.9L714 477.1L716 476.6L722 473.2L724 474.4L726 480.7L728 482.2L733 478L735.6 474L736 472ZM702 535.6L706 535.2L714 535.7L718 537.3L726 545.4L729.4 550L730.2 552L730 554L728 558L725.5 560L724 562L740 567.7L742 568L742 622L721.1 622L714 613.2L706 610.3L700 609.7L696 607.6L690 607.3L684 605.9L681.6 604L676 597.1L668.7 582L662 574.8L660.3 572L658 566L658.2 564L660 562L668 556.7L676.5 550L678 548L678 546L676.3 540L678 538.4L684 537.3L686 537.5L686.9 538L688 540.4L690 541.3L692 540.7L696 537.7L700.7 536ZM372 607.5L374.1 608L375.1 610L374 611L369.9 610L370.4 608ZM356 618.6L358 618.4L360.2 620L358.3 622L355.5 622L355.2 620Z"/>
<path fill="#af1446" d="M528 351.2L532 350.4L542 352L543.4 354L543.4 356L542.3 360L540 362.3L532 364.4L530 364.5L525 362L523 360L522.1 356L523.2 354L526.5 352ZM486 375.3L496 375.1L500 377.4L502.3 380L503 384L502.7 394L500.1 398L496 401.1L482 404.9L474 409.8L472 410L468.8 408L468.8 406L470.7 404L471.6 402L473.4 394L476.7 386L482 378.7L484.8 376ZM536 383.8L542 382.6L544 382.9L546 384.6L550 390L550.7 394L550.1 400L549.4 402L544.9 408L540 412.9L534 415.1L532 415.1L530.3 414L528 410L526.8 406L525.1 396L526.3 392L530 386.7L532 385.1L535.3 384ZM534 451L538 451.2L550 454.4L562 452L572 453.4L586 459.7L590 463.2L592 463.3L594 462.5L602 457.1L606 456.7L610 457.9L616 462.1L620 463.4L630 465L650 467.2L666 470.2L676 470.2L690 469L704 465.5L718 466.6L728 463.6L732 464.2L734 465.7L735.6 468L736 469.9L736.6 468L738 467.1L740 466.7L742 467.4L742 479L737.4 478L736.3 476L736 470.7L735.6 474L734.4 476L731.1 480L728 482.2L726 480.7L724 474.4L722 473.2L716 476.6L714 477.1L692 472.9L690.1 474L690 476L694.2 480L699.8 484L708 486.5L712 487.3L714 487.1L720 484.8L724 485.4L726 486.8L729.7 494L734 497.7L736 500.4L740 501.3L742 502.3L742 511.9L740 512.2L738.6 514L738.4 516L738.8 520L739.9 522L742 522.2L742 568L740 567.7L724 562L725.5 560L728 558L729.1 556L730.2 552L729.4 550L724.8 544L718.9 538L716 536.2L712 535.5L702 535.6L696 537.7L692 540.7L690 541.3L688 540.4L686.9 538L686 537.5L684 537.3L678 538.4L676.3 540L678 546L678 548L676.5 550L668 556.7L660 562L658.2 564L658 566L658.7 568L661.4 574L668.7 582L675.3 596L682 604.4L686 606.5L692 607.5L696 607.6L700 609.7L706 610.3L714 613.2L721.1 622L685.7 622L680 614.6L663.1 600L653.1 588L647.2 576L645.5 566L644 562.3L634.6 558L632.8 556L635.6 554L643.9 552L646 550.8L661.1 536L664 534.3L686 531.8L692 533.3L696 532.4L700 530.6L706 529.1L710 528.7L720 525.5L730 524.3L731.7 522L731.9 520L730 516L724 516.3L722.1 518L721.6 520L720 521.9L718 521.8L714 518.5L707.6 518L707.4 516L711.3 512L712.3 510L711.9 508L710 504.5L708 503.1L704 504.4L702 504.2L698 499.3L692 489.7L680.7 482L672 477.6L668 476.7L662 477.6L648 486.4L644 487.3L636 486.2L632 484.3L618.5 476L612 474.9L608 475.9L602 481.1L596 481.8L588 484.9L584 485.7L582 485.3L580.4 484L577.8 480L576 478.4L566 475.2L562 475.1L559.3 476L558.2 478L560 482L562 483.7L580 487.6L588 491.4L590 491.6L592 490.7L600 483L601.3 484L601.8 486L601.2 488L594.8 504L588.3 514L586 515.8L584 516.5L574 517.7L560 516.4L558 517L550 523L546 524L536 524L530 524.7L528 524.3L526 522.7L523.2 516L524.4 512L524.7 506L525.3 504L530.6 500L533.2 494L536 491.7L540 491.1L554 491.3L558 490.8L559.2 488L559.1 486L558 484.4L554 483.5L542 483.2L530 484L528 485.8L526.3 490L523.5 502L519.9 506L521.3 510L521.3 512L520 513.1L518 512.5L515.5 510L510.8 500L508 495.9L506 495.1L500 495.4L494 493.9L484 494.3L470 497.9L465.5 500L463.2 502L462 504.5L454.9 508L453.6 510L454 510.9L456 513.1L458 513.5L462 512.1L464 510.5L465.2 508L467.2 506L476 502.7L486 500L490 500.6L491.4 502L490.8 504L484 508.3L470 513.6L462.1 518L460.1 520L459.9 522L460.6 524L462 525.6L464 526.5L486 530.4L494 533.3L496.1 538L497.4 544L504.7 562L506.9 570L505.2 582L504.4 584L502 586.3L494 590.9L492 591.3L488 593.4L486 593.6L482 596.7L478 597.6L477.1 602L475.5 604L472 605.3L458.5 608L456 609.8L454.7 612L455.7 614L458 614.9L508.6 616L456 617.1L451.8 618L449.2 620L448.3 622L423.4 622L422.6 620L422.9 618L424.5 616L423.6 614L418 611.7L415.7 610L414.5 608L414.3 606L416 604L424 599.8L434 596.8L438 595.1L444.8 590L451 584L457.9 574L468 569.4L470.3 568L471.7 566L471 564L467.4 560L463.7 552L462 549.8L460 549.1L458 549.7L452.4 556L450 557.1L448 556.8L442 554.3L439.1 552L433.4 546L429.7 538L428 536.1L422 533.2L412 526.3L409.8 522L408.6 516L412.1 508L415.6 504L422 499.1L433.9 494L440 492.7L448 489.5L454 488.8L458 487.6L470 485.6L474 488L478 486.4L480 487.1L484 486.1L488 487.6L490 487.3L492 486L492.7 484L492 482L494 480.2L500 480.8L504 485.8L506 486.6L512 488.1L516 488.1L519.6 486L521.5 484L523.1 478L525.7 472L531.7 454L532.8 452ZM514 533.5L516 532.8L522 532.6L525.3 534L527.1 536L527.4 540L526.3 550L525.3 554L524 555L516 555.8L514 555.7L512.5 554L513 544L512.4 536L513.5 534ZM528 557.1L530 557.2L532 558.7L533 560L534.2 564L535.4 566L540.4 572L540.8 574L538 578.5L536 580.5L534 581.3L520 582.4L516 580.4L514 578L513.6 572L513.2 570L511.1 566L511 564L512 562.5L518 566.8L520 567.4L524 566.8L525.4 566L526.9 564L527.2 558ZM642 591.7L646 590.7L648 592.2L654 599.6L660.3 606L660.5 608L656 608.1L634 604.4L621.2 602L615.9 600L620.2 598L634 595L641.3 592ZM624 615.6L636 614.5L648 614.5L650 615.1L650.9 616L651.5 618L651.6 622L621.6 622L623.2 616Z"/>
<path fill="#9e0142" d="M560 475.6L562 475.1L566 475.2L576 478.4L577.8 480L580.4 484L582 485.3L584 485.7L588 484.9L596 481.8L602 481.1L608 475.9L610 475.1L614 474.9L620 476.8L634 485.4L638 486.7L644 487.3L648 486.4L662 477.6L666 476.8L670 476.9L680 481.6L692 489.7L698 499.3L702 504.2L704 504.4L708 503.1L710 504.5L711.9 508L712.3 510L711.3 512L707.4 516L707.6 518L714 518.5L718 521.8L720 521.9L721.6 520L722.1 518L724 516.3L730 515.9L731.9 520L731.7 522L730 524.3L720 525.5L710 528.7L706 529.1L700 530.6L696 532.4L692 533.3L686 531.8L664 534.3L661.1 536L646 550.8L643.9 552L635.6 554L632.8 556L634.6 558L644 562.3L645.5 566L647.2 576L653.1 588L663.1 600L680 614.6L685.7 622L651.6 622L651.5 618L650.9 616L650 615.1L646 614.5L636 614.5L624 615.6L623.2 616L621.6 622L448.3 622L449.2 620L451.8 618L456 617.1L508.6 616L458 614.9L455.7 614L454.7 612L456 609.8L458.5 608L472 605.3L475.5 604L477.1 602L478 597.6L482 596.7L486 593.6L488 593.4L492 591.3L494 590.9L502 586.3L504.4 584L505.2 582L506.9 570L504.7 562L497.4 544L496.1 538L494 533.3L486 530.4L464 526.5L462 525.6L460.6 524L459.9 522L460.1 520L462.1 518L470 513.6L484 508.3L490.8 504L491.4 502L490 500.6L486 500L476 502.7L467.2 506L465.2 508L464 510.5L462 512.1L458 513.5L456 513.1L454.7 512L453.6 510L454 508.9L458 506.1L462 504.5L463.2 502L465.5 500L470 497.9L484 494.3L494 493.9L500 495.4L506 495.1L508 495.9L510.8 500L515.5 510L518 512.5L520 513.1L521.3 512L521.3 510L519.9 506L523.5 502L526.3 490L528 485.8L530 484L542 483.2L554 483.5L558 484.4L559.1 486L559.2 488L558 490.8L554 491.3L540 491.1L536 491.7L533.2 494L530.6 500L525.3 504L524.7 506L524.4 512L523.2 516L526 522.7L528 524.3L530 524.7L536 524L546 524L550 523L558 517L560 516.4L574 517.7L584 516.5L586 515.8L588.3 514L594.8 504L601.2 488L601.8 486L601.3 484L600 483L592 490.7L590 491.6L588 491.4L580 487.6L562 483.7L560 482L558.2 478L559.3 476ZM513.5 534L512.4 536L513 544L512.5 554L514 555.7L516 555.8L524 555L525.3 554L526.3 550L527.4 540L527.1 536L525.3 534L522 532.6L516 532.8L514 533.5ZM527.2 558L526.9 564L525.4 566L524 566.8L520 567.4L518 566.8L512 562.5L511 564L511.1 566L513.2 570L513.6 572L514 578L516 580.4L520 582.4L534 581.3L536 580.5L538 578.5L540.8 574L540.4 572L535.4 566L534.2 564L533 560L532 558.7L530 557.2L528 557.1ZM641.3 592L634 595L620.2 598L615.9 600L621.2 602L634 604.4L656 608.1L660.5 608L660.3 606L654 599.6L648 592.2L646 590.7L642 591.7ZM742 511.9L742 522.2L740 522.1L738.4 518L738.6 514L740 512.2L741 512Z"/>
</g>

<g fill="none" stroke="#d3d3d3" stroke-width="1.5" stroke-linejoin="round">
<path d="M102 73.7L128 63.7L142 59L146 58.2L154 58.5L161 58L160.3 54L166.5 50"/>
<path d="M102 145.7L106 144.1L110 144.1L116 141.4L141.4 134L146 132.1L152 127.6L158 118.9L172 112.2L182 105L184 103.1L192.8 88L199.5 78L206.7 68L216 57.2L217.4 54L218.1 50"/>
<path d="M380.2 50L388 54.6L398 57.4L412 62.6L428 66.8L444 75L456 77.6L470 76L486 70.2L498 70L510 70.6L512 70L518 66L520 65.4L524 65.6L528 66.9L530 68.3L539.9 76L549.5 86L552 87.4L554 87.8L556.5 86L562 76L567.3 70L570 67.8L584 62.9L604 59L622 56.9L624 56.2L626 54.5L628 50M742 103.4L740 102.5L736 102.7L734 98.8L730 95.8L720 92.4L714 89.8L712 89.7L706 91.8L702.4 94L697.4 100L695.5 104L696.5 110L698.4 114L708 122L712 124L718 125.9L720 126.2L722 125.6L728 120.2L734 116.3L736 113.2L738 114.9L740 115.3L742 114.6M102 182L107.5 176L110.4 166L115.7 154L118 151.2L122 149.9L134 147.6L136 148.4L138 150L146 157.6L148 158.1L158 154.4L168 148.7L171.6 146L185.6 128L191.1 104L195.3 96L205.3 80L212.3 70L222 59.8L228.3 56L227.7 54L227.7 52L228.6 50M102 328.9L103.3 326L103.7 308L104.4 306L106 304.8L107.7 306L108.5 308L109.4 312L110 319.9L110.3 312L112.8 306L113.5 302L113.6 292L113.1 288L113.8 280L113.5 270L112.1 264L111.3 254L109.1 250L108 246.1L102 244"/>
<path d="M346.3 50L346.7 54L345.8 56L348 57.5L350 60L355.9 74L362.4 82L365.1 84L370 86.3L374 86.7L384 85.7L396 83.1L406 79.5L410 79L424 79.5L438 84.3L450 87.7L480 91.6L484 90.7L496 85.9L504 84.6L508 84.5L522 87.8L536.6 94L540 96.2L552 107.4L560 111.5L564 112.6L570 111.5L573.4 110L578.2 104L583.1 94L584 93.2L588 91.8L590 91.9L592 93.8L594.9 102L596.3 104L598 105.1L604 104.7L610 108.7L612 109L615.3 108L614 103.9L609.5 98L608.8 94L609.9 90L615.4 82L620.7 72L629.7 64L634 58.6L638 56L639.7 50M675 50L674.8 64L674 66L667.9 74L664.2 82L663.5 86L664.3 92L663.4 94L656 100.2L643 108L641 110L640.2 112L642 114.2L648 113.2L650 113.6L660 118.6L676.2 134L684 140.5L688 143L704 147L712 151.9L714 152.3L724 149.6L726 149.6L732 151.7L736 152.2L742 155.7M102 346L104 345.3L105.5 344L106 340.8L108 340.5L110 337.7L112.2 330L115 324L116 313.3L118.8 308L119.9 304L119.7 290L118.7 284L117.8 266L118.4 260L117.9 254L116.4 248L114.5 206L114.6 202L115.4 200L118 198.3L130 193.3L134 191L166 169.6L180 157.8L182.6 154L192.4 134L192.8 132L192 122L196 108.1L198 104L210.8 82L222 68.9L226 65.1L235.3 62L246 59.5L272 59.8L298 57.2L316 56.3L320 55.4L322 54.1L323 50M250 115.1L234 127.2L214 150.2L199.2 176L195.9 190L194 196L194 198L195.7 200L198 200.5L200 199.6L208 191L226 163.9L242.8 136L249.7 118L250 115.1"/>
<path d="M742 196.4L738 195.4L737 196L736.2 198L736.9 210L738 212.2L742 213M102 362.8L104 362.3L106 363L107.3 360L108.5 352L113.2 344L114.9 342L125.5 334L127 332L129.2 284L133.9 266L137 260L137.1 258L135.3 252L135.3 250L136.8 236L139.7 226L142 221.4L148 215.5L150 214.8L151.7 216L152.5 222L154 224L156 222.6L162 215.2L169.3 208L172 206.6L174.3 208L175.2 210L175.8 214L175.1 224L173.9 228L164.8 244L151.3 260L145.2 274L143.2 288L141.9 306L135.4 332L131.5 354L133.4 358L142 368.7L144 370.3L146 369.5L156.3 352L161.1 340L166 331.6L170.3 320L174.6 304L176 300.8L179.7 296L182 294.8L188 295.3L190 294.6L194 290.8L196 287.7L206.9 264L216.2 240L223.1 214L229.1 198L248.7 158L262 143.9L271.9 128L278.4 120L281.1 118L290 113.4L298 106.8L314 101L316 100.8L318 101.5L324 107.4L328.9 108L330.5 110L331.8 114L334 115.6L340 113.2L350 112.9L354 112.3L394 101.9L398 101.8L402 103.1L404 103L416 97.1L426 96.4L442 100L460 101.1L464 102L476 105.7L488 110.5L502 113.9L516 121.2L532 127L564 132.5L576 133.7L578 133.7L582 132.5L586.9 130L589.4 128L593.2 122L594.9 114L596 112.6L597.8 112L602 111.2L604 111.6L608 114.7L614 114.8L616 116.1L618 119L620 120.8L622 121.9L624 121.8L625.4 120L627.2 116L627.6 112L625.9 110L621.8 108L620.7 106L620.7 104L622 103L624 103.5L628 107.1L629.6 112L630.8 114L636.4 120L637.3 122L638.9 132L639.4 158L638.8 162L635.6 170L636 170.4L648 167.1L652 166.5L654 166.7L655.3 168L660 180.2L662 181.5L674 180.1L680 177.7L684 178.6L694 182.4L698 180.7L712 171.8L716 170.6L724 169.4L726 169.6L732 171.9L736 175.7L738 175.1L742 175.7M634 171.5L634 172.6L634.5 172ZM696 185.2L694 186.3L692 188.5L688 194.1L681.3 202L680.6 204L681.8 206L696 220.2L698 221.7L700 222L702 220.8L708 215.3L710 214.4L716 213.9L718 212.9L720 210L722.4 204L725.9 192L726.4 188L726 185.9L724 184.8L722 184.6L718 184.9L710 188.2L706 188.8L702.3 188L700 186.1L698 185.3ZM616 187.8L614.2 188L616 188.2L617.4 188ZM612 189.3L611.1 190L613.3 190Z"/>
<path d="M102 401L106 401.8L107.1 404L108 418.5L110 427.2L112 424.4L114 419.7L118 405.8L120 405.7L128 409L130 409.1L134 407.3L144 401L150 399.8L163.3 392L165.8 390L179.5 362L190 336.6L199.2 312L210 296L221 274L233.2 246L259.2 208L288 178.2L290 177L300 174.1L302 173.1L313.7 164L322 156.6L328 157.6L330 156.5L340 148.6L354 141.5L372 133.4L406 119.9L420 117.2L430 117L434 117.2L440 118.9L456 120.1L470 124.9L486 126.4L500 130.2L516 133.3L566 144.8L588 151.3L608 157.8L610.5 160L618 170.6L620 172.3L622 171.9L623.3 170L623.3 166L618 156.9L615.6 154L611 150L605.5 142L604.1 138L603.9 134L604.3 132L606.5 130L616 127.6L620 128L628 132.7L630 135.2L632 139.7L633.3 144L632.5 160L630 165.3L625.2 172L625.8 178L624 181.8L622 183L618 182.6L612 184.3L608 184.5L606 185.5L604 192L604 196L606 197.1L612 197L624 192.4L626 191.3L640 178.6L642 177.7L644 177.8L645.6 180L646.6 184L646.8 186L646 188.7L638 191.2L632 190.7L630 191.3L628.3 194L629 196L635.3 202L636.9 206L642 213.6L644 214.4L656 214.2L660 214.7L676 222.5L698 236.3L700 236.6L708 235.1L710 235.5L716 240.8L718 241.6L724 236.7L725.9 238L728 238.6L742 240.7M610 167.6L608.1 168L610 168.4L610 167.6M628 301.4L626 303.7L626 306L630.2 324L634 328.1L636 328.8L646 326.6L649.1 324L651.1 320L651.5 318L650.4 314L652.3 310L652.7 306L652 303.8L650 302.3L636 302L630 301.3ZM656 311.1L654.7 312L654.1 314L654.9 322L654.4 328L655.4 330L658 332.1L660 332.7L662 332.5L667.3 330L668.8 328L668.8 316L667.1 314L666 313.4L662 311.7L658 310.7Z"/>
<path d="M102 480.3L116 483.4L118 483.2L124 480.7L126 480.5L134 481.3L136 480.5L140 476L141 474L143.5 458L148 448L150 446.4L158 443.2L160 441.9L168.2 434L178 429.1L180 427.2L185.2 418L191.4 400L203.9 368L206 364L217.7 350L228.3 336L236.2 328L256 295.9L264.9 278L271.3 260L280.8 248L295.9 220L298 217.4L306.7 210L318 195.5L320 194L329.7 190L344 176.4L358 167.5L374 154.8L388 149.4L420 139.3L436 138.2L444 139.3L484 147.8L503.1 154L514 156.7L528 159.4L532 159.7L550 157.2L568 159.2L584 162.7L596 168.8L598 170.6L603.4 178L602.7 180L600 184L598 184.6L593.7 182L588 176.7L586 176L584 176.9L580.3 182L577.4 190L575.7 198L576.2 208L580 215.5L588.5 226L594 229L596 229.3L600 227.4L601.2 228L604.2 232L612 235.5L624 234.5L632 237.5L654 234.5L660 234.7L664 236.7L666 238.5L669.6 244L678 249.8L680 250.4L690 250.8L694 251.6L702.9 256L705.6 258L708.7 264L709 268L708.9 300L708 302.8L706 303.8L702 304L698 303.3L682 295.7L671.2 292L664 290.3L646 290.2L624 293.4L621.6 294L620 295.3L619.3 300L619.9 302L622.2 306L624.4 314L625 318L626.4 322L626 324L626.3 326L628.3 328L640 347.3L642 347.6L648 346.4L650 346.4L668 349.7L678 348.4L684 346.6L696 339.9L706.2 338L710 336.7L718 331L724 330.1L724.9 324L724.3 300L725.2 294L726 291.9L728 291.6L732 292.1L734 293.5L736 303.2L737.5 322L742 328M610 177.8L612.7 178L612 178.8L609.3 178ZM472 219.7L470 220.5L469 222L468.9 224L470 225.6L472 226.6L474.5 226L476.1 224L475.9 222L473.2 220ZM284 499.2L270 512.3L268 513.6L264 513.5L262 514.3L256 524.3L253.8 530L249.1 546L244.2 576L245.3 596L248 601.7L250 603.4L252 603.7L254 603.2L255.2 602L256 600L261.6 574L266 559.2L268 557.8L270 558.9L278 572.1L280 574.1L282 575L284 575.1L286 573.7L289.4 568L296 562L300 552L301 546L299.3 536L297.3 532L291.2 524L286.1 514L285.1 510L285.1 500L284 499.2"/>
<path d="M102 492L108 492.2L110 492.8L112 494.5L114.7 500L115.1 516L117 540L118.4 546L122.2 552L121.5 556L121.9 558L124 558.6L130 555.1L130.9 554L124.4 548L124 546L126.8 520L128.5 514L130 511.8L132 511.6L134 513.7L136 514.6L140 513.1L144 512.8L148.3 514L156 518.8L158 518.8L160 517.9L162.3 516L163.4 514L169.9 492L171.6 488L199.4 464L206 457.3L217.4 438L230.2 412L245.5 372L252.6 356L260.6 336L270.2 308L271.5 298L272.4 296L280 284.9L304 257.1L315.1 242L328.3 226L338.7 210L342 195.6L344 193.6L354 190.3L362 185.5L364 183.5L372 172.6L374 170.9L404 159.3L418 152.9L428 151.3L432 151.5L446 154.3L462 159.3L476 164.6L492 168.4L496 168.7L502 167.6L506 167.9L528 181.1L544 186L550 186.8L556 186.9L558 186.6L564 183.7L566 184.3L568 187.4L570 194.3L570.9 200L571.9 202L570.8 206L572.3 214L578.9 224L579.5 226L578.9 232L580.1 242L581.2 244L585.4 248L587.8 254L588.2 258L586 266L586 268L589 276L590 277.5L591 278L594 277.9L604 275.4L606.2 272L614 267.1L615.5 264L616 256.9L618 255L620 254.3L658 254.2L662 255.5L674.6 262L680 265.6L682 268L687.4 276L687.3 278L685 280L680 282.5L656 282.1L640 285.6L628 286.3L618 287.8L616 288.2L613.7 290L612.7 294L612.5 300L619.1 310L620.8 314L622.4 322L622.6 326L629.5 344L628.2 348L628.2 350L629.7 352L632 351.2L634 352.2L635.9 354L640.5 360L641.7 362L642.1 364L641.3 366L635.5 372L632 374.5L626 376.7L624.2 378L620 383L616.4 390L615.5 394L612.4 402L609.1 408L610.8 410L614 410.4L616 409.4L616.9 408L616.7 404L618 402.4L626 402.5L640 398.9L666 394.8L668 392.8L672 386.6L680 381.7L714 368.5L732 360.1L736 356.6L738 357L742 356.3M292 622L291.3 616L294.5 590L298.9 572L302.7 562L308.1 544L316 527.5L326.1 504L328.5 492L328.6 490L328 487.5L322 481.2L320 480.3L312 479.7L310 478.8L306 475.4L294.9 468L293.8 466L294.2 460L293.1 458L291 456L290 454L291.1 450L296.6 438L309.2 420L314.6 404L322.4 366L322 361.9L320 359.1L318 358.3L312 361.1L306 361.6L304 362.7L294.5 376L277.5 406L264.2 418L256.7 428L236 476L229 496L221.1 516L214.9 536L206.4 554L205.9 556L206.2 558L213.8 564L214 566L206.5 586L207.2 590L208.6 594L210 595.7L212 596.7L222 599.3L226 601L229.7 604L230 606.3L226 609.2L220 610.3L146 613.9L118 613.7L115.3 612L110.6 606L108.4 580L108 579.4L102 579.6M458 205.5L457.1 206L456.7 208L458 210.2L462 211.2L464 210.9L465 210L465.8 208L464.7 206L462 204.9L460 204.8ZM470 213.4L468 214.2L466.6 216L463.9 224L465.6 228L467.6 230L472 230.9L476 229.7L478.6 228L481.1 224L481.4 222L480 218.2L478 216.2L472 213.6L470 213.4M574 282.5L572.5 284L572.2 286L574 289.2L576 289.4L577.9 288L578.2 286L576 282.8Z"/>
<path d="M298.7 622L298.6 612L301.7 590L303.3 584L306 580L306.3 578L305.5 574L305.8 572L313.6 548L320 537.6L332.2 520L339 508L352.1 482L354 479.4L356 479L358 479.3L359.9 478L353.9 470L344 459.7L342.3 456L340.1 448L338 444.6L334 441.1L326 438.9L324.7 438L322.1 434L321.9 432L326.6 422L334 412.5L336 411.1L344 409.4L347.4 408L352.6 402L355.1 398L358.4 386L358 383.9L354 377.4L352 375.1L350 374.8L349.2 376L348.4 380L346 382.2L342 381.5L340.4 380L340.5 378L347.5 364L350 360.4L358 353.8L369.4 346L371.3 344L374 339L375.9 334L377 326L376.6 324L375.2 322L374 321.1L372 320.8L370.4 322L368 328.8L364 322.4L362 322.1L344 325.6L340 327L324 334.6L312 342.3L296 351.4L294.2 350L294.6 348L298.7 336L300 333.9L316 323.7L328 319.9L329.9 318L331.9 314L332.7 310L331.2 300L330.1 296L324.3 282L324 274L324.9 268L330 256.3L333.4 250L343.1 234L354 217.6L358 213.4L364.2 208L368 205.5L370 203.4L376 191.3L378 188.4L388 179.9L396 175.5L402 172.9L426 167L435 164L438 164L442 165L452 166.1L472 176.7L480 178.6L481.3 180L484 184.9L486 185.4L490 185.2L492 186L494 187.9L498.9 194L499.1 196L496.6 198L494 199.1L487.3 200L486.2 202L487 204L490 206.1L494 207L512 208.7L520 208.8L521.6 210L524 213.4L526 214.2L532 214.2L544 212.8L554 210.7L556 211.1L562 214.4L565.7 218L566.9 220L567.3 222L566.9 224L561.8 236L561.5 240L562.8 244L566 249.5L566.7 252L568.5 270L568.4 274L566 277.2L558 282.4L552.8 290L552.4 292L553.9 294L556.5 296L566 302.5L572 300.5L576.1 300L577.2 302L577.3 308L578.9 312L580 313L584 313.5L586 313L589.5 308L592 303.2L597.6 300L598.7 298L600 290L601.5 288L604 287.1L606 287.4L607 290L606.3 302L607.2 304L614.3 314L618 325.3L618.9 336L617.9 340L619.2 346L621.8 352L624.8 356L628 361.8L630 362.4L632 362.1L634 364L631.5 368L630 369.3L626 370.5L624.8 372L620 375.5L616 381.7L613.1 388L610 392.2L605.4 402L600.2 410L597.2 418L597.4 420L599.3 424L602 426.8L604 426.8L605.3 418L607.6 416L614 414.6L622 411.5L644 413.6L654 414.9L662 416.7L678 414.6L688 411.3L702 407.7L706 405.5L712 398L718.1 392L722 389.5L726 388L728 388.4L730 389.9L737.7 398L742 401.2M530 197.8L532 196.8L538 198.7L540.3 200L540.3 202L536 204.5L534 204.8L532 204.3L530.4 202L530 198ZM462 199.9L454 203.1L452.6 204L452.1 206L452.9 212L453.9 214L459.1 218L460.1 220L456.1 228L456.8 230L458 231.3L462 234L468 235.3L472 235.1L478 232.9L482 230.5L484 228.1L488.2 226L488.4 224L486 221L480.7 208L479.3 206L470 200.5L468 199.7L464 199.6ZM620 271.8L624 271L638 271.3L642 273.1L645.7 276L645.7 278L640.8 280L638 280.5L618 280.8L616 279.4L615.4 278L615.7 276L619.8 272Z"/>
<path d="M311 622L311.2 586L312.8 568L316 559.6L318 556.3L324 552.6L328 547.6L330 546.2L332 545.6L334.9 546L337.3 548L338.6 550L339.5 554L339.3 556L335.3 562L333.5 566L329.5 578L326.5 590L325.8 596L325 622M351.3 622L350.9 618L350 616.9L344 616L339.2 614L339.7 612L341.2 610L349.7 600L356 597.7L364 595.8L368 595.5L372 597.5L378 603.6L380 602.8L380.3 602L380.2 600L379.2 598L370 591.4L368.7 590L367.4 586L366.2 576L365 574L356 568.9L353.7 566L352 558.3L348.8 548L348.8 546L349.9 544L354.1 540L354.9 538L351.8 532L351.9 530L358.5 510L377 492L380.5 488L384 477.3L385 476L388 474.4L390 472.3L400.1 458L401 456L402.8 446L402.3 444L400 442.7L382 443.8L378 443.4L374 442.1L370 439.7L366 434.1L365.5 432L366 430L370 424.3L378 419.5L382.7 414L383.9 412L384.3 410L383.6 404L390.7 386L396.3 378L405.6 370L407.2 368L407.3 366L403 360L401.6 354L401.7 352L406 346.6L406.7 344L406.1 342L402.3 336L400.8 332L400.5 330L401.2 326L402.3 324L404.3 322L416 313.6L420 310L426 303.1L427.4 300L426.5 298L424.6 296L422 294.6L420 295.9L418 298.5L411.2 302L408 305L406 305.4L400 302.3L398 301.8L394 301.9L382 308.8L378 310.4L366 312.4L364 312.4L362 310.9L361.1 308L361.3 306L363.6 290L366.3 260L370.5 246L371.7 244L374 242.5L376 241.7L378 241.8L382.1 244L384 248L387.8 264L390 265L394 265.4L422 254.3L432 248L434.3 246L435.2 244L436.9 236L438 234.5L440 233.4L446 232.6L448 233.2L456 239.3L460 241.4L474 241.3L478 240.5L492 234.3L498 227.3L501.9 224L502.5 220L504 218.3L506 218.1L514 219L518 220.4L522 220.8L554 220.2L556.6 222L557.1 224L554.6 230L552 233.2L548 234L528 234L526 234.4L524.6 236L526.2 244L528 246.5L536 249.2L550 250.4L552 251.4L554.8 254L557 258L557.9 264L557.2 268L552 274.8L546 279.8L540.6 286L540.3 288L542.7 294L543.9 296L546 297.8L552 300.3L554.7 302L556 303.6L556.7 306L557.2 314L558 316.1L560 317L562 317.1L572 316.7L576 320.3L580 322.3L588 328.3L590 329.1L592 328.4L593.8 326L593.9 324L591.7 316L592 314L594 310L596 307.6L600 307.2L602 308L605.6 312L607.9 316L610.1 324L614 333L615 340L617.1 348L623.7 358L625.4 364L622.6 366L621.8 368L621.7 370L618 372.8L616 377L614 378.4L612.9 380L612.8 382L611.1 386L604 395.6L602 400.2L596.9 408L594 413.9L591 418L590.2 420L590.5 422L592.3 426L594 428L602 431.5L604 431.7L608 430.6L612 428.1L620 425.4L634 423.3L642 425.3L658 431.1L674 433.8L692 434L706 432.9L710 431.8L716 429.1L720 423.3L722 421.8L728 422.2L730 421.3L736.8 412L740.7 408L742 407.3M398.3 622L396 618.8L394 617.2L388 615.8L386 616.3L384.1 618L384 622M440 177.7L444 177.6L452 179.5L460 186L464.4 188L466.7 190L462 194L454 198.8L450 199.9L448 199.9L442 196.4L431.9 196L430 197.3L428.8 200L428.9 202L431 206L429.8 208L424 209.3L422 208.8L416 204.3L410 201.6L408.6 200L408.5 198L410 195.5L418 187.7L439.1 178ZM444 203.8L446 202.5L447.1 204L446.7 206L446 206.5L444 206.1L443.8 204ZM448 255.4L446 256.1L444.9 258L444.6 260L445.6 262L448 262L449.2 260L449.5 258L448.9 256ZM462 255.6L460 256.1L457.2 260L454.8 262L453.6 264L454 264.4L460.2 264L463.5 262L464.4 260L464.3 258L462.5 256ZM434 259.8L432 260.9L430.3 266L431 268L432 268.7L434.6 268L436.7 266L437.7 264L437.4 262L436 260.5L434.6 260ZM440 284.1L438.3 286L437.9 288L438.4 290L440 291.3L441.2 290L442 288.1L442 285.3ZM468 297L466 298.6L465.4 300L465.7 302L472 307.5L474 308.5L476 308.4L480 307.8L482 307L483 306L484.6 302L484.1 300L481.4 298L478 296.7L470 296.7ZM414 439.9L410 441.8L408.6 444L408.5 446L409.8 448L412 448.9L420 448.2L426 446.8L430 446.6L432 446.8L438 449.3L439.7 448L440.2 446L439.5 442L437.9 440L434 439.2L416 439.5ZM476 447.8L472 449L466 452.2L436 464.5L419.2 474L417.4 476L417.6 478L420 480.2L432 479.5L439.9 476L442 473.3L444 472.7L450 474.6L455.9 472L466 464.6L473.1 456L480.2 450L480.5 448L480 447.6L476 447.8"/>
<path d="M355.5 622L355.2 620L356 618.6L358 618.4L360.2 620L358.3 622M401.3 622L400 618L402.5 616L403.3 614L394 608.8L392 608.5L388 608.9L386.7 608L390 605.9L398.6 602L401.5 600L401.9 598L400 592L399.9 590L401 588L408.5 580L410.7 574L412.6 566L410.3 560L408 557.4L396 556.2L394 555.7L392 554.3L383.4 542L382.1 532L382.5 524L382.2 518L384 512.1L391.4 506L398 502.3L424 490L434 486L436 485.8L440 486.9L442.8 486L444 485L452 483.6L456 481.9L460 481.3L464 479.5L472 479.1L473.2 478L474 474L476 472.1L478.7 474L480 476.9L484 476.1L485.1 470L490 463.2L494 461.8L502 455.2L504 454.4L508 454.1L510 453L511.4 448L512.6 438L512.3 434L507.8 424L506.1 418L504.3 416L502 415.4L496 415.3L490 416.1L488 416.9L487.1 418L488.4 422L488.2 424L486.9 428L485.1 430L480 433.2L478 434L476 433.9L472 432.1L470 432L462 436.3L456 438.2L453.5 438L452 437.1L448 432.9L444 431.2L436 429L422 428.4L411.5 424L408 420.8L405.7 416L405.4 414L407.1 404L408.2 402L415.5 394L418 388L417.3 386L413.5 384L412.9 382L414.9 380L431.4 370L436 366L437.1 364L436.5 362L431.4 360L430.5 358L431.3 356L444 341.9L448 335.2L450 333.9L454 335.1L458 335.5L486 334.5L488 333.9L489.6 330L490.6 318L492 315.6L494 314.4L500 313.8L502 312.8L502.9 310L503.2 304L504 300L505.9 296L508 294.2L510 293.4L516 294L530 294.1L532 294.7L536 300L538 302L541.2 304L542.8 306L543.1 322L543.6 324L550 331.2L554 332.7L564 333L568 333.8L578 338L584 342.2L586 343L588 342.4L590 340.9L597.7 334L599 332L601 328L600.7 326L598 320L597.6 316L598 315.4L600.1 316L602.5 322L603.2 328L608 333.1L613.4 348L616.8 354L620.3 358L620.7 360L620 362.6L618.7 364L618 366.7L614.8 370L610 376.6L608 384.2L601.2 392L598 398.3L594 404.6L589.7 408L588.3 410L586 415.7L582.5 420L582.6 422L583.5 424L588 430.6L590 431.6L601.2 434L606.6 436L607.4 438L607.2 440L604.6 444L604.8 446L608 446.6L610 446.1L624 439L636 437.4L638 437.8L639.5 440L641.1 446L642 447.4L647.8 452L654 454.4L664 456.7L694 452.8L716 449.3L728 452.2L730 451.6L732 450L736.4 444L742 440.7M510 249.3L512 248.4L513.7 254L515.6 256L518.7 258L519.9 260L519.2 262L516.9 264L514 265.3L510 264.3L507.5 262L506.5 260L506.3 256L506.8 254L509.6 250ZM478 251.2L488 250.8L496 251.7L500 252.3L502.8 254L503.4 256L503.6 262L500.5 266L496 268.5L492 270.4L490 270.7L488 269.6L484 264.9L478.5 262L476.9 260L475.4 256L475.2 254L476.3 252ZM528 255.9L530 255.8L536 258.6L544 261L546 262L546 264.2L544 265L542 265L538 264.8L536 264.2L534 262.8L527.5 260L526.4 258L527.7 256ZM474 275.1L476 275L480 276.3L486 276.3L488.5 278L488.6 280L488 280.9L486 282.5L474 281.4L471.9 280L471.7 278L473 276ZM494 276.9L496 277.1L502.2 282L503.8 284L503.6 286L502 287.8L498 289.6L494 289.2L491.6 288L495.4 284L495.3 282L493.5 280L493 278ZM440 313.8L442 314.5L445 318L445.4 320L444 321.6L442 322.3L440 322.3L438 321.5L436 319.6L435.4 318L435.9 316L438.1 314ZM594 349.2L592.3 350L590.7 352L591.9 356L593.5 358L600.6 362L606 368.6L608 368.9L612 368.3L614 367.1L617 364L617.7 362L617.8 360L615.5 356L612 352L608.3 350L600 348.4L596 348.6ZM590 379.7L586 381.3L576 388.1L558 403.1L552 409L544 420.3L543.1 422L543 424L544 426L546 427L554 427.7L556 427.5L572 417L574 416.7L578 417.3L580 417L580.9 416L584.2 408L588.5 400L589.4 396L590 395.2L594 393.9L598 389.4L602.4 386L603.6 384L603.4 382L602 380.1L600 378.8L598 378.5L592 379.3ZM372 607.5L374.1 608L375.1 610L374 611L369.9 610L370.4 608Z"/>
<path d="M742 479L737.4 478L736.3 476L736 470.7L735.6 474L734.4 476L731.1 480L728 482.2L726 480.7L724 474.4L722 473.2L716 476.6L714 477.1L692 472.9L690.1 474L690 476L694.2 480L699.8 484L708 486.5L712 487.3L714 487.1L720 484.8L724 485.4L726 486.8L729.7 494L734 497.7L736 500.4L740 501.3L742 502.3M742 568L740 567.7L724 562L725.5 560L728 558L729.1 556L730.2 552L729.4 550L724.8 544L718.9 538L716 536.2L712 535.5L702 535.6L696 537.7L692 540.7L690 541.3L688 540.4L686.9 538L686 537.5L684 537.3L678 538.4L676.3 540L678 546L678 548L676.5 550L668 556.7L660 562L658.2 564L658 566L658.7 568L661.4 574L668.7 582L675.3 596L682 604.4L686 606.5L692 607.5L696 607.6L700 609.7L706 610.3L714 613.2L721.1 622M423.4 622L422.6 620L422.9 618L424.5 616L423.6 614L418 611.7L415.7 610L414.5 608L414.3 606L416 604L424 599.8L434 596.8L438 595.1L444.8 590L451 584L457.9 574L468 569.4L470.3 568L471.7 566L471 564L467.4 560L463.7 552L462 549.8L460 549.1L458 549.7L452.4 556L450 557.1L448 556.8L442 554.3L439.1 552L433.4 546L429.7 538L428 536.1L422 533.2L411.7 526L410 522.6L408.7 518L409.1 514L413.5 506L424 497.8L433.9 494L440 492.7L446.1 490L454 488.8L464 486.4L470 485.6L474 488L478 486.4L480 487.1L484 486.1L488 487.6L490 487.3L492 486L492.7 484L492 482L494 480.2L500 480.8L504 485.8L506 486.6L512 488.1L516 488.1L519.6 486L521.5 484L523.1 478L525.7 472L531.7 454L534 451L538 451.2L550 454.4L562 452L572 453.4L586 459.7L590 463.2L592 463.3L594 462.5L602 457.1L606 456.7L610 457.9L616 462.1L620 463.4L630 465L650 467.2L666 470.2L676 470.2L690 469L704 465.5L718 466.6L728 463.6L732 464.2L734 465.7L735.6 468L736 469.9L736.6 468L738 467.1L740 466.7L742 467.4M528 351.2L532 350.4L542 352L543.4 354L543.4 356L542.3 360L540 362.3L532 364.4L530 364.5L525 362L523 360L522.1 356L523.2 354L526.5 352ZM486 375.3L496 375.1L500 377.4L502.3 380L503 384L502.7 394L500.1 398L496 401.1L482 404.9L474 409.8L472 410L468.8 408L468.8 406L470.7 404L471.6 402L473.4 394L476.7 386L482 378.7L484.8 376ZM536 383.8L542 382.6L544 382.9L546 384.6L550 390L550.7 394L550.1 400L549.4 402L544.9 408L540 412.9L534 415.1L532 415.1L530.3 414L528 410L526.8 406L525.1 396L526.3 392L530 386.7L532 385.1L535.3 384Z"/>
<path d="M742 522.2L739.9 522L738.8 520L738.4 516L738.6 514L740 512.2L742 511.9M448.3 622L449.2 620L451.8 618L456 617.1L508.6 616L458 614.9L455.7 614L454.7 612L456 609.8L458.5 608L472 605.3L475.5 604L477.1 602L478 597.6L482 596.7L486 593.6L488 593.4L492 591.3L494 590.9L502 586.3L504.4 584L505.2 582L506.9 570L504.7 562L497.4 544L496.1 538L494 533.3L486 530.4L464 526.5L462 525.6L460.6 524L459.9 522L460.1 520L462.1 518L470 513.6L484 508.3L490.8 504L491.4 502L490 500.6L486 500L476 502.7L467.2 506L465.2 508L464 510.5L462 512.1L458 513.5L456 513.1L454 510.9L453.6 510L454.9 508L462 504.5L463.2 502L465.5 500L470 497.9L484 494.3L494 493.9L500 495.4L506 495.1L508 495.9L510.8 500L515.5 510L518 512.5L520 513.1L521.3 512L521.3 510L519.9 506L523.5 502L526.3 490L528 485.8L530 484L542 483.2L554 483.5L558 484.4L559.1 486L559.2 488L558 490.8L554 491.3L540 491.1L536 491.7L533.2 494L530.6 500L525.3 504L524.7 506L524.4 512L523.2 516L526 522.7L528 524.3L530 524.7L536 524L546 524L550 523L558 517L560 516.4L574 517.7L584 516.5L586 515.8L588.3 514L594.8 504L601.2 488L601.8 486L601.3 484L600 483L592 490.7L590 491.6L588 491.4L580 487.6L562 483.7L560 482L558.2 478L559.3 476L562 475.1L566 475.2L576 478.4L577.8 480L580.4 484L582 485.3L584 485.7L588 484.9L596 481.8L602 481.1L608 475.9L612 474.9L618.5 476L632 484.3L636 486.2L644 487.3L648 486.4L662 477.6L668 476.7L672 477.6L680.7 482L692 489.7L698 499.3L702 504.2L704 504.4L708 503.1L710 504.5L711.9 508L712.3 510L711.3 512L707.4 516L707.6 518L714 518.5L718 521.8L720 521.9L721.6 520L722.1 518L724 516.3L730 515.9L731.2 518L731.9 520L731.7 522L730 524.3L720 525.5L710 528.7L706 529.1L700 530.6L696 532.4L692 533.3L686 531.8L664 534.3L661.1 536L646 550.8L643.9 552L635.6 554L632.8 556L634.6 558L644 562.3L645.5 566L647.2 576L653.1 588L663.1 600L680 614.6L685.7 622M651.6 622L651.5 618L650.9 616L650 615.1L646 614.5L636 614.5L624 615.6L623.2 616L621.6 622M514 533.5L512.4 536L513 544L512.5 554L514 555.7L524 555L525.3 554L526 551.9L527.4 540L527.1 536L524 533.1L522 532.6L516 532.8ZM528 557.1L527.2 558L526.9 564L525.4 566L524 566.8L520 567.4L518 566.8L512 562.5L511 564L511.1 566L513.2 570L513.6 572L514 578L516 580.4L520 582.4L534 581.3L536 580.5L539.9 576L540.8 574L540.4 572L534.2 564L533 560L530 557.2ZM642 591.7L634 595L620.2 598L615.9 600L621.2 602L634 604.4L656 608.1L660.5 608L660.3 606L654 599.6L648 592.2L646 590.7L644 590.9Z"/>

</g>
<g shape-rendering="crispEdges">
<path fill="#c8c8c8" d="M658 192L686 192L686 194L736 194L736 216L727 216L727 210L700 210L700 207L686 207L672 205L664 202L658 200 Z"/>
<path fill="#c8c8c8" d="M577 226L603 226L603 236L577 236 Z"/>
<path fill="#c8c8c8" d="M519 183L523 183L523 193L519 193 Z"/>
<path fill="#c8c8c8" d="M471 194L489 194L506 194L506 199L489 201L471 201 Z"/>
<path fill="#c8c8c8" d="M514 187L526 187L526 193L543 193L543 199L526 201L514 201 Z"/>
<path fill="#c8c8c8" d="M449 229L460 228L460 236L449 236 Z"/>
<path fill="#c8c8c8" d="M491 305L503 303L510 298L524 297L524 305L512 309L505 315L491 316 Z"/>
<path fill="#c8c8c8" d="M548 280L556 274L566 268L578 266L578 273L568 278L560 286L548 290 Z"/>
<path fill="#c8c8c8" d="M589 233L605 233L605 237L589 237 Z"/>
<path fill="#c8c8c8" d="M659 194L687 194L687 204L669 204L659 198 Z"/>
<path fill="#c8c8c8" d="M628 292L642 292L642 308L628 308 Z"/>
<path fill="#c8c8c8" d="M670 292L680 292L680 303L670 303 Z"/>
<path fill="#c8c8c8" d="M657 309L665 309L665 316L657 316 Z"/>
<path fill="#c8c8c8" d="M601 397L621 397L621 407L601 407 Z"/>
<path fill="#c8c8c8" d="M579 437L607 435L607 445L579 447 Z"/>
<path fill="#c8c8c8" d="M599 427L611 427L611 433L599 433 Z"/>
<path fill="#c8c8c8" d="M609 432L619 432L619 436L609 436 Z"/>
<path fill="#c8c8c8" d="M576 430L597 430L597 441L584 447L576 445 Z"/>
<path fill="#c8c8c8" d="M603 430L620 430L620 437L603 437 Z"/>
<path fill="#c8c8c8" d="M513 617L513 606L521 592L529 590L549 594L559 580L579 582L579 592L569 598L563 608L553 617 Z"/>
<path fill="#c8c8c8" d="M540 534L550 534L550 539L540 539 Z"/>
<path fill="#c8c8c8" d="M601 570L621 570L621 576L605 579L601 578 Z"/>
<path fill="#c8c8c8" d="M594 604L614 604L623 608L623 617L594 617 Z"/>
<path fill="#c8c8c8" d="M609 606L619 606L619 617L609 617 Z"/>
<path fill="#c8c8c8" d="M691 607L709 607L709 614L691 616 Z"/>
<path fill="#c8c8c8" d="M560 579L571 583L567 600L560 613 Z"/>
<path fill="#3a3a3a" fill-opacity="0.52" d="M698.7 110.0L712.0 109.3L713.3 114.0L706.7 116.0L700.0 114.7 Z"/>
<path fill="#3a3a3a" fill-opacity="0.52" d="M718.7 97.3L726.7 96.7L728.0 104.7L724.0 106.0L720.0 102.0 Z"/>
<path fill="#3a3a3a" fill-opacity="0.52" d="M682.7 116.7L700.0 118.0L698.7 122.0L690.7 124.7L689.3 130.0L684.0 136.7L682.0 130.0 Z"/>
<path fill="#3a3a3a" fill-opacity="0.52" d="M712.0 123.3L717.3 123.3L718.0 128.7L714.0 131.3 Z"/>
<path fill="#3a3a3a" fill-opacity="0.52" d="M696.0 126.7L700.7 126.7L700.7 130.0L696.0 130.0 Z"/>
<path fill="#3a3a3a" fill-opacity="0.52" d="M694.0 136.0L698.7 136.0L698.7 138.7L694.0 138.7 Z"/>
<path fill="#3a3a3a" fill-opacity="0.52" d="M687.3 147.3L692.0 147.3L692.7 152.7L688.0 155.3 Z"/>
<path fill="#3a3a3a" fill-opacity="0.52" d="M138.0 77.0L135.0 81.0L128.0 83.0L123.0 86.0L121.0 91.0L119.0 96.0L116.0 97.0L115.0 103.0L114.0 111.0L114.0 119.0L115.0 126.0L116.0 129.0L113.0 131.0L113.0 137.0L118.0 137.0L125.0 135.0L134.0 134.0L142.0 132.0L147.0 131.0L151.0 127.0L142.0 127.0L135.0 127.0L128.0 126.0L121.0 126.0L119.0 122.0L119.0 115.0L120.0 110.0L125.0 110.0L127.0 107.0L128.0 102.0L133.0 100.0L133.0 95.0L135.0 88.0L138.0 82.0 Z"/>
<path fill="#3a3a3a" fill-opacity="0.52" d="M576.0 273.0L593.0 272.0L603.0 276.0L597.0 282.0L586.0 284.0L576.0 281.0 Z"/>
<path fill="#3a3a3a" fill-opacity="0.52" d="M505.0 272.0L515.0 270.0L521.0 280.0L523.0 290.0L518.0 292.0L512.0 284.0L507.0 278.0 Z"/>
<path fill="#3a3a3a" fill-opacity="0.52" d="M485.0 304.0L491.0 304.0L491.0 310.0L485.0 310.0 Z"/>
<path fill="#3a3a3a" fill-opacity="0.52" d="M538.0 325.0L549.0 325.0L549.0 336.0L540.0 337.0 Z"/>
<path fill="#3a3a3a" fill-opacity="0.52" d="M545.0 292.0L555.0 291.0L554.0 298.0L546.0 298.0 Z"/>
<path fill="#3a3a3a" fill-opacity="0.52" d="M711.0 337.0L721.0 337.0L729.0 343.0L727.0 359.0L721.0 353.0L716.0 345.0 Z"/>
<path fill="#3a3a3a" fill-opacity="0.52" d="M712.0 412.0L727.0 410.0L727.0 421.0L713.0 420.0 Z"/>
<path fill="#3a3a3a" fill-opacity="0.52" d="M458.0 205.0L463.0 205.0L463.0 214.0L458.0 214.0 Z"/>
</g>
<ellipse cx="127" cy="93" rx="4.6" ry="7.5" transform="rotate(14 127 93)" fill="#3c3830" fill-opacity="0.25" stroke="#6a6456" stroke-width="0.8"/>
<ellipse cx="126.5" cy="94" rx="2.2" ry="4" transform="rotate(10 126.5 94)" fill="#c9b97a" fill-opacity="0.55" stroke="#8a8268" stroke-width="0.7"/>
<path d="M116 98L114 111L115 125L118 131L128 129L142 127" fill="none" stroke="#bdbdbd" stroke-width="1"/>
<g fill="none" stroke="#000" stroke-width="1.15">
<path d="M185.0 56 Q161.8 336 137.0 616"/>
<path d="M348.5 56 Q342.1 336 334.0 616"/>
<path d="M511.0 56 Q520.0 336 530.5 616"/>
<path d="M674.0 56 Q699.2 336 726.0 616"/>
<path d="M108 99.8 Q422 128.6 736 99.8"/>
<path d="M108 310.5 Q422 338.1 736 310.5"/>
<path d="M108 520.0 Q422 544.4 736 520.0"/>
</g>
<g fill="none" stroke="#000" stroke-width="1.5" stroke-linejoin="round" stroke-linecap="round">
<path d="M108.0 138.0C108.8 137.2 109.2 134.5 113.0 133.0C116.8 131.5 125.7 131.0 131.0 129.0C136.3 127.0 140.7 123.7 145.0 121.0C149.3 118.3 152.7 116.3 157.0 113.0C161.3 109.7 168.7 103.0 171.0 101.0"/>
<path d="M108.0 80.0C109.5 78.8 113.5 75.5 117.0 73.0C120.5 70.5 123.3 67.8 129.0 65.0C134.7 62.2 147.3 57.5 151.0 56.0"/>
<path d="M108.0 184.0C108.2 185.7 108.5 191.3 109.0 194.0C109.5 196.7 109.7 198.8 111.0 200.0C112.3 201.2 114.3 201.7 117.0 201.0C119.7 200.3 124.0 197.3 127.0 196.0C130.0 194.7 130.3 195.2 135.0 193.0C139.7 190.8 148.3 186.7 155.0 183.0C161.7 179.3 166.7 176.7 175.0 171.0C183.3 165.3 196.7 155.3 205.0 149.0C213.3 142.7 218.3 137.7 225.0 133.0C231.7 128.3 238.0 124.7 245.0 121.0C252.0 117.3 260.0 114.3 267.0 111.0C274.0 107.7 280.3 104.0 287.0 101.0C293.7 98.0 300.3 96.0 307.0 93.0C313.7 90.0 320.3 85.5 327.0 83.0C333.7 80.5 339.7 80.5 347.0 78.0C354.3 75.5 364.7 70.7 371.0 68.0C377.3 65.3 380.7 64.0 385.0 62.0C389.3 60.0 395.0 57.0 397.0 56.0"/>
<path d="M108.0 280.0C108.2 281.3 108.7 285.0 109.0 288.0C109.3 291.0 109.2 294.3 110.0 298.0C110.8 301.7 112.7 308.5 114.0 310.0C115.3 311.5 117.0 306.7 118.0 307.0C119.0 307.3 118.8 310.2 120.0 312.0C121.2 313.8 122.8 316.7 125.0 318.0C127.2 319.3 130.0 319.3 133.0 320.0C136.0 320.7 140.0 321.0 143.0 322.0C146.0 323.0 148.0 325.0 151.0 326.0C154.0 327.0 158.7 326.5 161.0 328.0C163.3 329.5 164.0 332.5 165.0 335.0C166.0 337.5 165.7 340.7 167.0 343.0C168.3 345.3 171.5 346.0 173.0 349.0C174.5 352.0 175.0 356.7 176.0 361.0C177.0 365.3 178.2 369.3 179.0 375.0C179.8 380.7 180.7 388.3 181.0 395.0C181.3 401.7 181.2 409.3 181.0 415.0C180.8 420.7 180.7 423.7 180.0 429.0C179.3 434.3 178.2 441.3 177.0 447.0C175.8 452.7 174.3 458.7 173.0 463.0C171.7 467.3 169.7 471.3 169.0 473.0"/>
<path d="M140.0 540.0C138.5 542.7 133.8 551.3 131.0 556.0C128.2 560.7 125.3 564.7 123.0 568.0C120.7 571.3 118.7 572.7 117.0 576.0C115.3 579.3 114.2 584.2 113.0 588.0C111.8 591.8 110.7 596.0 110.0 599.0C109.3 602.0 109.2 604.8 109.0 606.0"/>
<path d="M249.0 617.0C248.7 614.8 246.7 608.5 247.0 604.0C247.3 599.5 249.3 595.0 251.0 590.0C252.7 585.0 254.7 579.0 257.0 574.0C259.3 569.0 261.7 565.0 265.0 560.0C268.3 555.0 272.7 549.3 277.0 544.0C281.3 538.7 286.0 533.0 291.0 528.0C296.0 523.0 302.0 518.3 307.0 514.0C312.0 509.7 316.0 505.7 321.0 502.0C326.0 498.3 331.7 495.0 337.0 492.0C342.3 489.0 347.3 486.3 353.0 484.0C358.7 481.7 366.3 479.7 371.0 478.0C375.7 476.3 376.7 476.5 381.0 474.0C385.3 471.5 392.3 465.8 397.0 463.0C401.7 460.2 404.7 458.7 409.0 457.0C413.3 455.3 418.3 454.0 423.0 453.0C427.7 452.0 432.0 451.3 437.0 451.0C442.0 450.7 447.7 450.3 453.0 451.0C458.3 451.7 465.0 453.0 469.0 455.0C473.0 457.0 474.3 459.7 477.0 463.0C479.7 466.3 483.0 470.5 485.0 475.0C487.0 479.5 488.3 485.8 489.0 490.0C489.7 494.2 489.7 495.7 489.0 500.0C488.3 504.3 487.0 510.0 485.0 516.0C483.0 522.0 479.7 530.0 477.0 536.0C474.3 542.0 472.3 546.3 469.0 552.0C465.7 557.7 461.3 565.0 457.0 570.0C452.7 575.0 448.0 578.3 443.0 582.0C438.0 585.7 433.0 589.0 427.0 592.0C421.0 595.0 413.0 597.7 407.0 600.0C401.0 602.3 394.7 603.2 391.0 606.0C387.3 608.8 386.0 615.2 385.0 617.0"/>
</g>
<g fill="none" stroke="#000" stroke-width="1.7" stroke-linejoin="round" stroke-linecap="round">
<path d="M379.0 334.0L382.0 322.0L383.0 310.0L387.0 300.0L389.0 290.0L390.0 274.0L389.0 254.0L387.0 246.0L384.0 240.0L387.0 234.0L393.0 230.0L391.0 226.0L387.0 222.0L385.0 214.0L377.0 214.0L383.0 205.0L379.0 206.0L373.0 200.0L371.0 194.0L375.0 191.0L387.0 185.0L401.0 181.0L407.0 173.0L417.0 169.0L427.0 168.0L435.0 171.0L441.0 175.0L457.0 175.0L469.0 176.0L485.0 173.0L495.0 175.0L507.0 178.0L523.0 180.0L535.0 180.0L549.0 178.0L559.0 177.0L567.0 179.0L583.0 180.0L589.0 177.0L603.0 181.0L613.0 182.0L621.0 181.0L631.0 175.0L636.0 167.0L639.0 157.0L638.0 147.0L639.0 137.0L641.0 133.0L640.0 127.0L642.0 121.0L639.0 117.0L641.0 113.0L642.0 107.0L641.0 99.0L641.0 88.0L646.0 87.0L652.0 94.0L656.0 96.0L654.0 91.0L649.0 85.0L643.0 81.0L637.0 75.0L639.0 69.0L640.0 63.0L637.0 56.0"/>
<path d="M667.3 100.0L673.3 95.3L682.7 92.0L694.7 91.3L705.3 94.0L709.3 99.3L714.7 104.7L716.0 110.0L714.0 116.7L710.7 121.3L700.0 124.0L692.0 126.7L688.0 130.0L685.3 126.0L682.7 120.7L680.0 115.3L678.7 110.0L673.3 108.7L666.7 110.7L661.3 110.0L658.7 108.0L660.0 106.0L668.0 105.3L666.7 102.7L667.3 100.0"/>
<path d="M640.7 115.3L646.7 116.7L654.7 120.7L660.0 124.7L661.3 130.0L658.7 134.7L652.0 136.0L645.3 135.3L641.3 132.7"/>
<path d="M659.3 118.7L664.0 116.0L669.3 120.0L668.7 123.3L664.0 122.7L659.3 120.7L659.3 118.7"/>
<path d="M649.0 90.0L653.0 98.0L655.0 103.0"/>
<path d="M638.0 126.0L644.0 128.0L640.0 131.0L645.0 133.0L639.0 136.0"/>
<path d="M379.0 334.0L376.0 335.0L375.0 343.0L367.0 345.0L365.0 355.0L363.0 367.0L359.0 373.0L363.0 377.0L369.0 375.0L372.0 385.0L383.0 387.0L385.0 397.0L382.0 405.0L383.0 415.0L382.0 425.0L381.0 435.0L379.0 445.0L387.0 444.0L397.0 444.0L407.0 445.0L415.0 447.0L423.0 444.0L433.0 443.0L443.0 440.0L451.0 439.0L461.0 443.0L469.0 449.0L475.0 455.0L479.0 460.0L486.0 456.0L493.0 451.0L499.0 455.0L505.0 459.0L515.0 455.0L521.0 451.0L525.0 455.0L529.0 465.0L537.0 463.0L543.0 459.0L555.0 457.0L567.0 456.0L579.0 456.0L591.0 455.0L603.0 454.0L609.0 455.0L617.0 450.0L625.0 451.0L629.0 455.0L635.0 449.0L638.0 439.0L641.0 431.0L649.0 425.0L657.0 418.0L665.0 416.0L675.0 415.0L678.0 411.0L675.0 405.0L678.0 395.0L683.0 385.0L688.0 378.0L695.0 375.0L703.0 371.0L707.0 367.0L703.0 363.0L697.0 357.0L693.0 351.0L689.0 345.0L687.0 339.0L686.0 335.0L689.0 330.0L693.0 322.0L697.0 314.0L703.0 306.0L709.0 298.0L713.0 292.0L717.0 284.0L724.0 282.0L723.0 274.0L727.0 266.0L736.0 265.0"/>
<path d="M371.0 367.0L375.0 363.0L378.0 368.0L376.0 374.0L371.0 378.0L369.0 374.0L371.0 367.0"/>
<path d="M428.0 393.0L433.0 389.0L437.0 392.0L437.0 397.0L432.0 400.0L428.0 398.0L428.0 393.0"/>
<path d="M464.0 249.0L471.0 252.0L480.0 251.0L488.0 248.0L496.0 246.0L505.0 244.0L510.0 243.0L512.0 248.0L518.0 251.0L521.0 259.0L527.0 262.0L537.0 261.0L545.0 259.0L552.0 255.0L559.0 254.0L565.0 255.0L563.0 260.0L559.0 266.0L565.0 265.0L573.0 264.0"/>
<path d="M548.0 272.0L549.0 281.0L545.0 284.0L543.0 279.0L534.0 281.0L524.0 279.0L521.0 273.0L515.0 271.0L507.0 277.0L513.0 282.0L518.0 287.0L524.0 292.0L529.0 295.0L534.0 296.0L532.0 304.0L535.0 310.0L534.0 317.0L537.0 323.0L535.0 329.0L529.0 332.0L521.0 336.0L515.0 340.0L508.0 343.0L504.0 339.0L508.0 336.0L505.0 332.0L497.0 329.0L488.0 329.0L482.0 325.0L476.0 321.0L477.0 312.0L471.0 307.0L475.0 301.0L479.0 295.0L479.0 287.0L474.0 281.0L475.0 273.0L471.0 269.0L466.0 263.0L464.0 255.0L464.0 249.0"/>
<path d="M552.0 307.0L559.0 306.0L563.0 310.0L565.0 317.0L562.0 314.0L556.0 312.0L552.0 307.0"/>
<path d="M537.0 323.0L540.0 329.0L543.0 337.0L546.0 342.0L548.0 336.0L545.0 329.0"/>
<path d="M483.0 482.0L493.0 486.0L503.0 496.0L507.0 494.0L511.0 500.0L515.0 510.0L523.0 518.0L533.0 522.0L543.0 523.0L551.0 524.0L563.0 521.0L575.0 519.0L589.0 516.0L603.0 514.0L606.0 521.0L623.0 523.0L643.0 523.0L654.0 516.0L663.0 510.0L671.0 501.0L680.0 496.0L694.0 493.0L700.0 486.0L711.0 487.0L723.0 480.0L731.0 467.0L736.0 467.0"/>
<path d="M525.0 476.0L526.0 482.0L543.0 482.0L563.0 483.0L577.0 483.0L589.0 490.0L606.0 491.0L626.0 490.0L629.0 499.0L634.0 504.0L637.0 516.0L643.0 524.0L637.0 530.0L626.0 536.0L611.0 540.0L610.0 547.0L620.0 550.0L611.0 556.0L607.0 560.0L617.0 564.0L606.0 567.0L601.0 573.0L603.0 590.0L604.0 607.0L617.0 611.0L634.0 610.0L654.0 611.0L674.0 613.0L686.0 613.0"/>
<path d="M472.4 456.7L476.0 462.0L479.6 468.2L483.1 472.7L488.4 476.6L493.8 481.6L499.1 486.0L504.4 487.2L508.0 483.3L511.6 478.0L515.1 473.6L520.4 468.2L522.2 462.0L520.4 456.7L524.0 454.9"/>
<path d="M383.8 202.0l2.2 -2.2l2.2 2.2l-2.2 2.2z"/>
<path d="M431.8 229.0l2.2 -2.2l2.2 2.2l-2.2 2.2z"/>
<path d="M416.8 250.0l2.2 -2.2l2.2 2.2l-2.2 2.2z"/>
<path d="M391.8 300.0l2.2 -2.2l2.2 2.2l-2.2 2.2z"/>
<path d="M463.8 245.0l2.2 -2.2l2.2 2.2l-2.2 2.2z"/>
<path d="M450.8 334.0l2.2 -2.2l2.2 2.2l-2.2 2.2z"/>
<path d="M455.8 333.0l2.2 -2.2l2.2 2.2l-2.2 2.2z"/>
<path d="M460.8 334.0l2.2 -2.2l2.2 2.2l-2.2 2.2z"/>
<path d="M464.8 334.0l2.2 -2.2l2.2 2.2l-2.2 2.2z"/>
<path d="M468.8 334.0l2.2 -2.2l2.2 2.2l-2.2 2.2z"/>
<path d="M511.8 356.0l2.2 -2.2l2.2 2.2l-2.2 2.2z"/>
<path d="M504.8 363.0l2.2 -2.2l2.2 2.2l-2.2 2.2z"/>
<path d="M508.8 367.0l2.2 -2.2l2.2 2.2l-2.2 2.2z"/>
<path d="M544.8 347.0l2.2 -2.2l2.2 2.2l-2.2 2.2z"/>
<path d="M594.8 387.0l2.2 -2.2l2.2 2.2l-2.2 2.2z"/>
<path d="M436.8 383.0l2.2 -2.2l2.2 2.2l-2.2 2.2z"/>
<path d="M543.8 437.0l2.2 -2.2l2.2 2.2l-2.2 2.2z"/>
<path d="M503.8 198.0l2.2 -2.2l2.2 2.2l-2.2 2.2z"/>
<path d="M537.8 204.0l2.2 -2.2l2.2 2.2l-2.2 2.2z"/>
<path d="M516.8 221.0l2.2 -2.2l2.2 2.2l-2.2 2.2z"/>
<path d="M549.8 196.0l2.2 -2.2l2.2 2.2l-2.2 2.2z"/>
<path d="M593.8 243.0l2.2 -2.2l2.2 2.2l-2.2 2.2z"/>
<path d="M486.8 304.0l2.2 -2.2l2.2 2.2l-2.2 2.2z"/>
<path d="M650.8 206.0l2.2 -2.2l2.2 2.2l-2.2 2.2z"/>
<path d="M717.8 230.0l2.2 -2.2l2.2 2.2l-2.2 2.2z"/>
<path d="M702.8 258.0l2.2 -2.2l2.2 2.2l-2.2 2.2z"/>
<path d="M677.8 278.0l2.2 -2.2l2.2 2.2l-2.2 2.2z"/>
<path d="M656.8 327.0l2.2 -2.2l2.2 2.2l-2.2 2.2z"/>
<path d="M662.8 329.0l2.2 -2.2l2.2 2.2l-2.2 2.2z"/>
<path d="M632.8 385.0l2.2 -2.2l2.2 2.2l-2.2 2.2z"/>
<path d="M641.8 385.0l2.2 -2.2l2.2 2.2l-2.2 2.2z"/>
<path d="M544.8 435.0l2.2 -2.2l2.2 2.2l-2.2 2.2z"/>
</g>
<text x="195.5" y="73" font-size="19.8" text-anchor="middle" textLength="64" lengthAdjust="spacingAndGlyphs" transform="rotate(-50 195.5 73) translate(0 7)">1520.0</text>
<text x="154" y="507" font-size="19.8" text-anchor="middle" textLength="63" lengthAdjust="spacingAndGlyphs" transform="rotate(-75 154 507) translate(0 7)">1560.0</text>
<text x="259.8" y="593" font-size="17.1" textLength="324.5" lengthAdjust="spacingAndGlyphs" style="fill:#2b2b2b;fill-opacity:.82">Grey contours: precipitation &#8805; 0.5 mm</text>
<rect x="732.8" y="587.5" width="1.7" height="26" fill="#fff"/>
<path d="M262 610H332M300 612.6H420M110 612H230" fill="none" stroke="#d3d3d3" stroke-width="1.2"/>
<path d="M407 346L437 327" stroke="#000" stroke-width="4.2" fill="none"/>
<circle cx="422.3" cy="336.6" r="6.6" fill="#f00" stroke="#000" stroke-width="2.6"/>
</g>
<rect x="108.5" y="56.5" width="627.5" height="559.5" fill="none" stroke="#000" stroke-width="1"/>
<text x="121.3" y="48.7" font-size="25.50" textLength="601.5" lengthAdjust="spacingAndGlyphs">Init: 2017-04-30 00:00; Valid: 2017-06-01 00:00</text>
<text x="42.6" y="109.1" font-size="29.80" textLength="61.0" lengthAdjust="spacingAndGlyphs">45.0</text>
<text x="42.6" y="319.9" font-size="29.80" textLength="61.0" lengthAdjust="spacingAndGlyphs">40.0</text>
<text x="42.6" y="530.7" font-size="29.80" textLength="61.0" lengthAdjust="spacingAndGlyphs">35.0</text>
<text x="100.7" y="644.4" font-size="29.80" textLength="71.6" lengthAdjust="spacingAndGlyphs">-15.0</text>
<text x="296.8" y="644.4" font-size="29.80" textLength="71.6" lengthAdjust="spacingAndGlyphs">-10.0</text>
<text x="502.0" y="644.4" font-size="29.80" textLength="53.4" lengthAdjust="spacingAndGlyphs">-5.0</text>
<text x="704.5" y="644.4" font-size="29.80" textLength="43.0" lengthAdjust="spacingAndGlyphs">0.0</text>
<text x="301.2" y="680.0" font-size="31.40" textLength="243.0" lengthAdjust="spacingAndGlyphs">Longitude (deg)</text>
<text x="31.6" y="443.5" font-size="31.40" textLength="218.0" lengthAdjust="spacingAndGlyphs" transform="rotate(-90 31.6 443.5)">Latitude (deg)</text>
<g shape-rendering="crispEdges">
<rect x="750.4" y="132.60" width="21.0" height="14.83" fill="#af1446"/>
<rect x="750.4" y="147.13" width="21.0" height="14.83" fill="#c2294a"/>
<rect x="750.4" y="161.66" width="21.0" height="14.83" fill="#d53e4e"/>
<rect x="750.4" y="176.19" width="21.0" height="14.83" fill="#e04f4a"/>
<rect x="750.4" y="190.71" width="21.0" height="14.83" fill="#eb6046"/>
<rect x="750.4" y="205.24" width="21.0" height="14.83" fill="#f46f44"/>
<rect x="750.4" y="219.77" width="21.0" height="14.83" fill="#f7864e"/>
<rect x="750.4" y="234.30" width="21.0" height="14.83" fill="#fa9d59"/>
<rect x="750.4" y="248.83" width="21.0" height="14.83" fill="#fdb265"/>
<rect x="750.4" y="263.36" width="21.0" height="14.83" fill="#fdc473"/>
<rect x="750.4" y="277.89" width="21.0" height="14.83" fill="#fdd682"/>
<rect x="750.4" y="292.41" width="21.0" height="14.83" fill="#fee391"/>
<rect x="750.4" y="306.94" width="21.0" height="14.83" fill="#feeea3"/>
<rect x="750.4" y="321.47" width="21.0" height="14.83" fill="#fef9b5"/>
<rect x="750.4" y="336.00" width="21.0" height="14.83" fill="#fafdb8"/>
<rect x="750.4" y="350.53" width="21.0" height="14.83" fill="#f1f9aa"/>
<rect x="750.4" y="365.06" width="21.0" height="14.83" fill="#e8f69c"/>
<rect x="750.4" y="379.59" width="21.0" height="14.83" fill="#daf09a"/>
<rect x="750.4" y="394.11" width="21.0" height="14.83" fill="#c5e79e"/>
<rect x="750.4" y="408.64" width="21.0" height="14.83" fill="#b0dfa2"/>
<rect x="750.4" y="423.17" width="21.0" height="14.83" fill="#99d6a4"/>
<rect x="750.4" y="437.70" width="21.0" height="14.83" fill="#81cca4"/>
<rect x="750.4" y="452.23" width="21.0" height="14.83" fill="#68c3a4"/>
<rect x="750.4" y="466.76" width="21.0" height="14.83" fill="#57b2ab"/>
<rect x="750.4" y="481.29" width="21.0" height="14.83" fill="#459db4"/>
<rect x="750.4" y="495.81" width="21.0" height="14.83" fill="#3389bc"/>
<rect x="750.4" y="510.34" width="21.0" height="14.83" fill="#4075b4"/>
<rect x="750.4" y="524.87" width="21.0" height="14.83" fill="#5060aa"/>
</g>
<path d="M750.4 132.8 L760.9 111.3 L771.4 132.8 Z" fill="#9e0142"/>
<path d="M750.4 539.2 L760.9 560.2 L771.4 539.2 Z" fill="#5e4fa2"/>
<path d="M750.4 132.6 L760.9 111.3 L771.4 132.6 L771.4 539.4 L760.9 560.2 L750.4 539.4 Z" fill="none" stroke="#000" stroke-width="1" stroke-linejoin="miter"/>
<path d="M765.9 161.7 H771.4" stroke="#000" stroke-width="1"/>
<text x="775.4" y="169.6" font-size="29.60" textLength="36.6" lengthAdjust="spacingAndGlyphs">18</text>
<path d="M765.9 205.2 H771.4" stroke="#000" stroke-width="1"/>
<text x="775.4" y="213.1" font-size="29.60" textLength="36.6" lengthAdjust="spacingAndGlyphs">15</text>
<path d="M765.9 248.8 H771.4" stroke="#000" stroke-width="1"/>
<text x="775.4" y="256.7" font-size="29.60" textLength="36.6" lengthAdjust="spacingAndGlyphs">12</text>
<path d="M765.9 292.4 H771.4" stroke="#000" stroke-width="1"/>
<text x="775.4" y="300.3" font-size="29.60" textLength="18.6" lengthAdjust="spacingAndGlyphs">9</text>
<path d="M765.9 336.0 H771.4" stroke="#000" stroke-width="1"/>
<text x="775.4" y="343.9" font-size="29.60" textLength="18.6" lengthAdjust="spacingAndGlyphs">6</text>
<path d="M765.9 379.6 H771.4" stroke="#000" stroke-width="1"/>
<text x="775.4" y="387.5" font-size="29.60" textLength="18.6" lengthAdjust="spacingAndGlyphs">3</text>
<path d="M765.9 423.2 H771.4" stroke="#000" stroke-width="1"/>
<text x="775.4" y="431.1" font-size="29.60" textLength="18.6" lengthAdjust="spacingAndGlyphs">0</text>
<path d="M765.9 466.8 H771.4" stroke="#000" stroke-width="1"/>
<text x="775.4" y="474.7" font-size="29.60" textLength="44.5" lengthAdjust="spacingAndGlyphs">−3</text>
<path d="M765.9 510.3 H771.4" stroke="#000" stroke-width="1"/>
<text x="775.4" y="518.2" font-size="29.60" textLength="44.5" lengthAdjust="spacingAndGlyphs">−6</text>
<text x="845.4" y="593.0" font-size="30.40" textLength="516.0" lengthAdjust="spacingAndGlyphs" transform="rotate(-90 845.4 593.0)">Temperature at 850.0 hPa (deg C)</text>
</svg></body></html>
